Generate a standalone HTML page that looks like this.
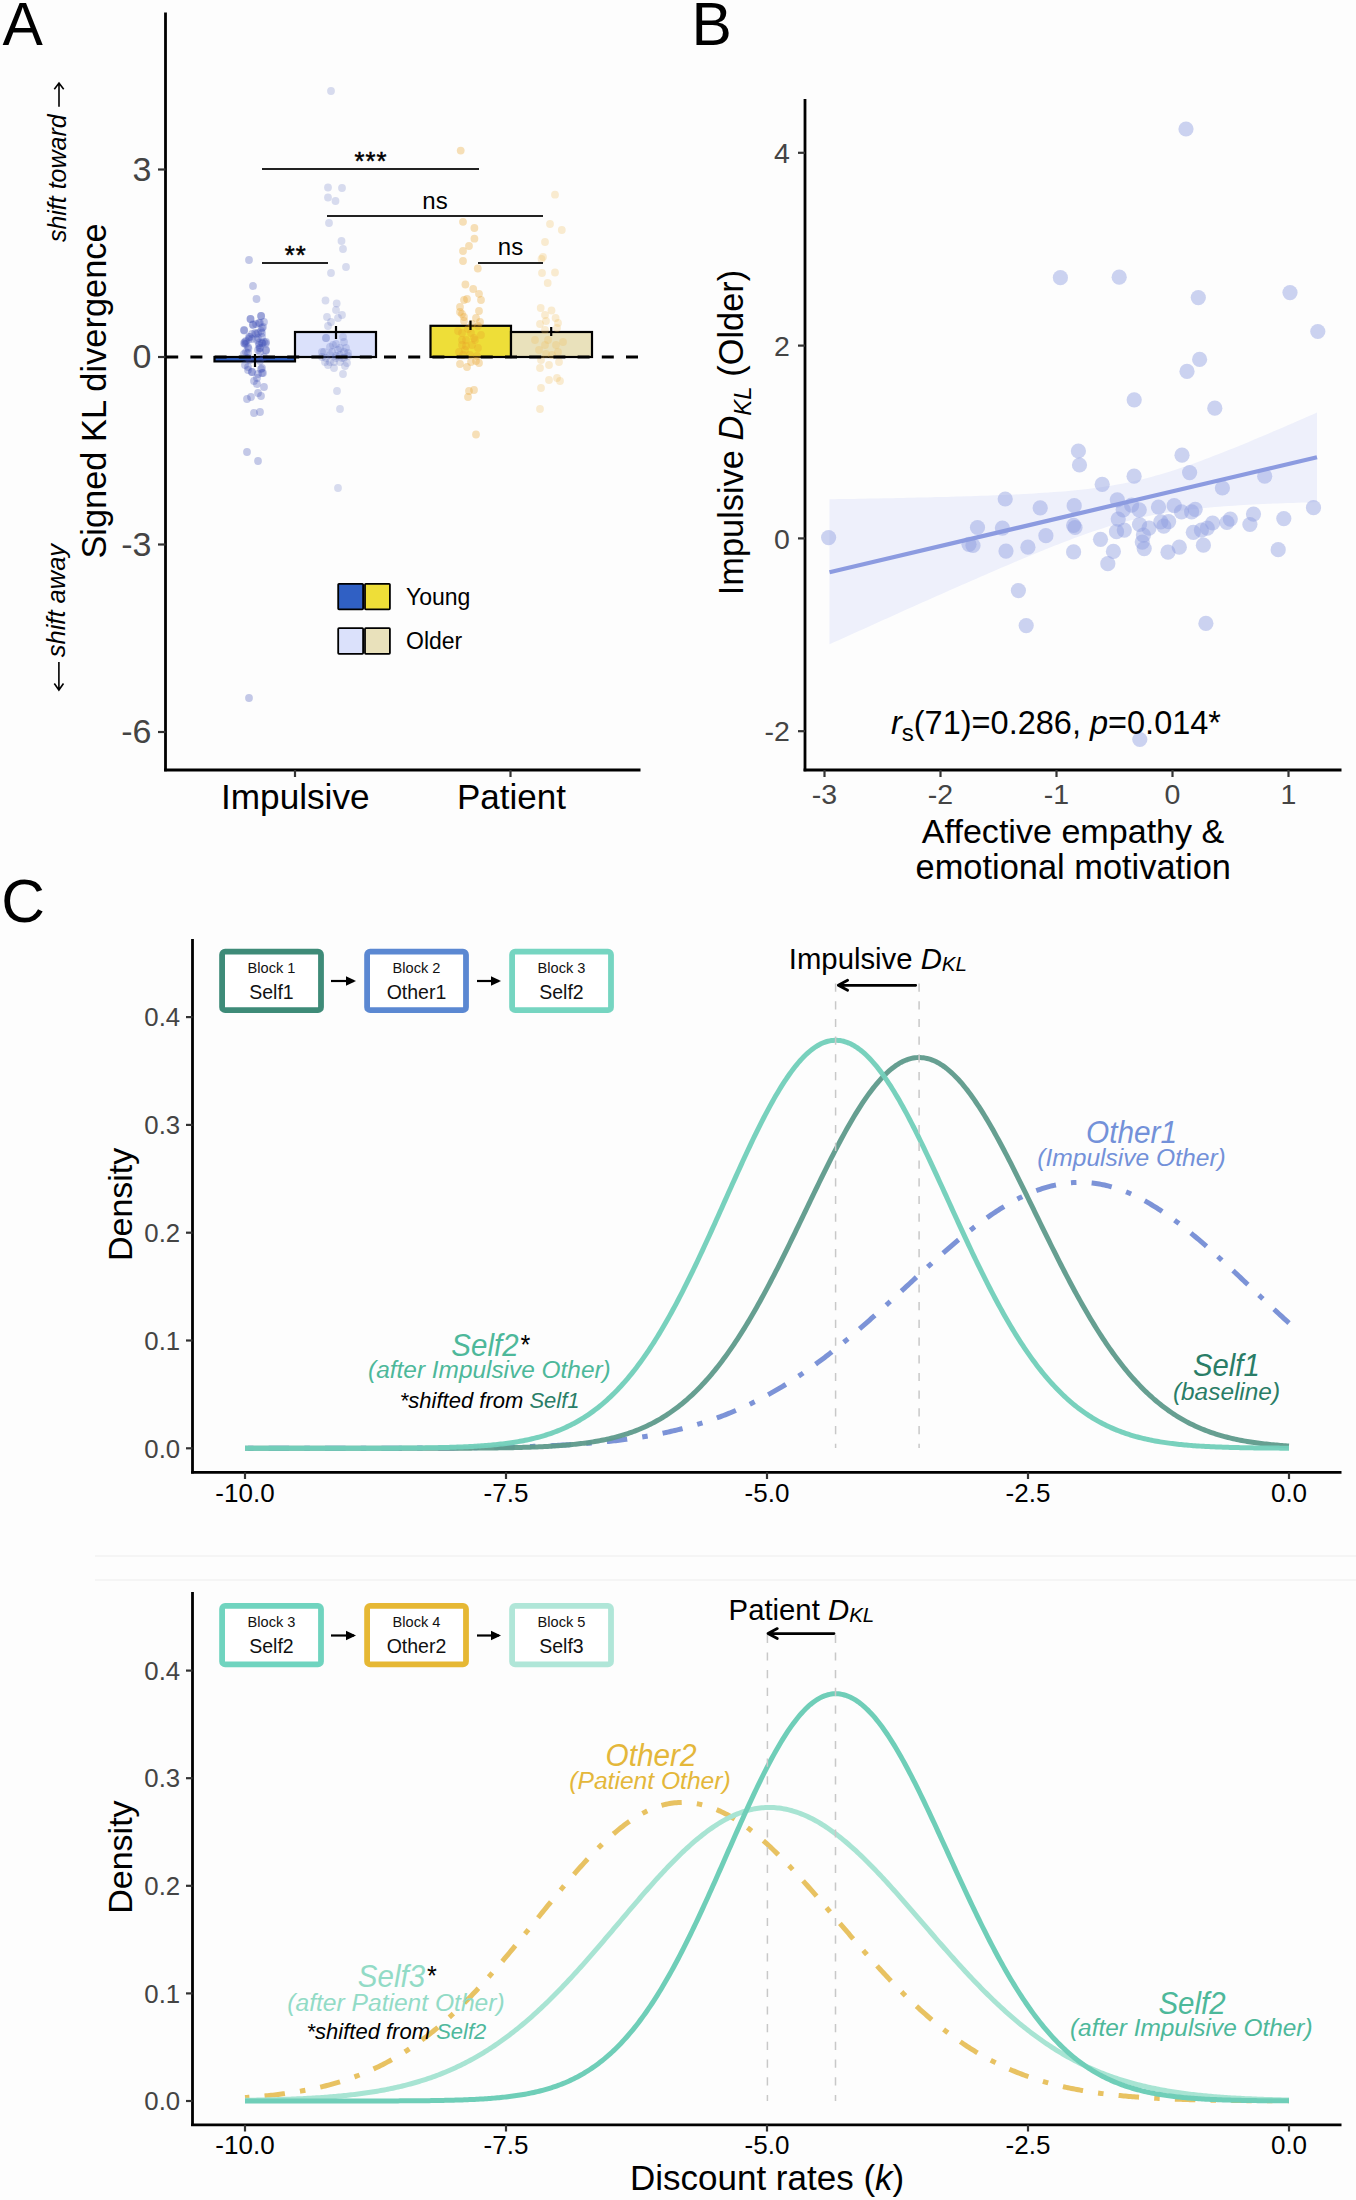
<!DOCTYPE html>
<html><head><meta charset="utf-8"><title>Figure</title>
<style>html,body{margin:0;padding:0;background:#fdfdfd;} svg{display:block;} text{font-family:"Liberation Sans", sans-serif;}</style>
</head><body>
<svg width="1356" height="2200" viewBox="0 0 1356 2200" font-family='"Liberation Sans", sans-serif'>
<rect width="1356" height="2200" fill="#fdfdfd"/>
<text x="2.5" y="45" font-size="60.5" fill="#000" text-anchor="start" >A</text>
<line x1="165.5" y1="12.5" x2="165.5" y2="771.3" stroke="#000" stroke-width="2.8" />
<line x1="164.1" y1="770" x2="640.5" y2="770" stroke="#000" stroke-width="2.8" />
<line x1="158" y1="169.5" x2="165.5" y2="169.5" stroke="#333" stroke-width="2.2" />
<text x="151.5" y="180.9" font-size="34" fill="#444" text-anchor="end" >3</text>
<line x1="158" y1="357" x2="165.5" y2="357" stroke="#333" stroke-width="2.2" />
<text x="151.5" y="368.4" font-size="34" fill="#444" text-anchor="end" >0</text>
<line x1="158" y1="544.5" x2="165.5" y2="544.5" stroke="#333" stroke-width="2.2" />
<text x="151.5" y="555.9" font-size="34" fill="#444" text-anchor="end" >-3</text>
<line x1="158" y1="732" x2="165.5" y2="732" stroke="#333" stroke-width="2.2" />
<text x="151.5" y="743.4" font-size="34" fill="#444" text-anchor="end" >-6</text>
<line x1="295" y1="770" x2="295" y2="777" stroke="#333" stroke-width="2.2" />
<line x1="510.5" y1="770" x2="510.5" y2="777" stroke="#333" stroke-width="2.2" />
<text x="295.3" y="809" font-size="35.2" fill="#000" text-anchor="middle" >Impulsive</text>
<text x="511.5" y="809" font-size="35" fill="#000" text-anchor="middle" >Patient</text>
<text transform="translate(106.1,391) rotate(-90)" font-size="34.4" text-anchor="middle" fill="#000">Signed KL divergence</text>
<text transform="translate(65.9,178.2) rotate(-90)" font-size="25" text-anchor="middle" font-style="italic" fill="#000">shift toward</text>
<path d="M59,106.7 L59,83.5 M54.3,89.3 L59,83 L63.7,89.3" fill="none" stroke="#000" stroke-width="1.6"/>
<text transform="translate(65.1,600.6) rotate(-90)" font-size="25.5" text-anchor="middle" font-style="italic" fill="#000">shift away</text>
<path d="M58.9,662 L58.9,689.6 M54.3,683.5 L58.9,690 L63.5,683.5" fill="none" stroke="#000" stroke-width="1.6"/>
<rect x="214.5" y="357" width="80.5" height="4.4" fill="#3060c4" stroke="#000" stroke-width="2.2"/>
<rect x="295" y="332" width="81" height="25" fill="#dbe1fb" stroke="#000" stroke-width="2.2"/>
<rect x="430.5" y="325.8" width="80.5" height="31.2" fill="#eede38" stroke="#000" stroke-width="2.2"/>
<rect x="511" y="332" width="81" height="25" fill="#e9e1bb" stroke="#000" stroke-width="2.2"/>
<g fill="#3f51b5" fill-opacity="0.3">
<circle cx="249" cy="260" r="3.9"/>
<circle cx="253" cy="286" r="3.9"/>
<circle cx="256.5" cy="299" r="3.9"/>
<circle cx="261" cy="316" r="3.9"/>
<circle cx="250.5" cy="319" r="3.9"/>
<circle cx="253" cy="325" r="3.9"/>
<circle cx="259" cy="323" r="3.9"/>
<circle cx="262" cy="328" r="3.9"/>
<circle cx="244" cy="330" r="3.9"/>
<circle cx="262" cy="333" r="3.9"/>
<circle cx="250" cy="337" r="3.9"/>
<circle cx="245" cy="342" r="3.9"/>
<circle cx="258" cy="338" r="3.9"/>
<circle cx="246" cy="344" r="3.9"/>
<circle cx="248" cy="347" r="3.9"/>
<circle cx="259" cy="343" r="3.9"/>
<circle cx="264" cy="342" r="3.9"/>
<circle cx="260" cy="348" r="3.9"/>
<circle cx="252" cy="339" r="3.9"/>
<circle cx="255" cy="333" r="3.9"/>
<circle cx="244" cy="354" r="3.9"/>
<circle cx="248" cy="353" r="3.9"/>
<circle cx="258" cy="350" r="3.9"/>
<circle cx="266" cy="350" r="3.9"/>
<circle cx="264" cy="357" r="3.9"/>
<circle cx="248" cy="358" r="3.9"/>
<circle cx="250" cy="360" r="3.9"/>
<circle cx="260" cy="361" r="3.9"/>
<circle cx="245" cy="365" r="3.9"/>
<circle cx="248" cy="370" r="3.9"/>
<circle cx="252" cy="372" r="3.9"/>
<circle cx="262" cy="368" r="3.9"/>
<circle cx="262" cy="373" r="3.9"/>
<circle cx="258" cy="374" r="3.9"/>
<circle cx="254" cy="381" r="3.9"/>
<circle cx="257" cy="384" r="3.9"/>
<circle cx="264" cy="387" r="3.9"/>
<circle cx="258" cy="393" r="3.9"/>
<circle cx="261" cy="396" r="3.9"/>
<circle cx="247" cy="399" r="3.9"/>
<circle cx="251" cy="397" r="3.9"/>
<circle cx="254" cy="413" r="3.9"/>
<circle cx="260" cy="412" r="3.9"/>
<circle cx="247" cy="452" r="3.9"/>
<circle cx="258" cy="461" r="3.9"/>
<circle cx="249" cy="698" r="3.9"/>
<circle cx="250.5" cy="319" r="3.9"/>
<circle cx="261.2" cy="316" r="3.9"/>
<circle cx="244.2" cy="330.5" r="3.9"/>
<circle cx="253" cy="324.5" r="3.9"/>
<circle cx="256" cy="324" r="3.9"/>
<circle cx="260" cy="323" r="3.9"/>
<circle cx="264" cy="322" r="3.9"/>
<circle cx="263" cy="327" r="3.9"/>
<circle cx="261" cy="331" r="3.9"/>
<circle cx="258" cy="333" r="3.9"/>
<circle cx="262" cy="337" r="3.9"/>
<circle cx="256" cy="334" r="3.9"/>
<circle cx="252" cy="334" r="3.9"/>
<circle cx="249" cy="337" r="3.9"/>
<circle cx="246" cy="341" r="3.9"/>
<circle cx="244" cy="343" r="3.9"/>
<circle cx="249" cy="339" r="3.9"/>
<circle cx="257" cy="340" r="3.9"/>
<circle cx="262" cy="343" r="3.9"/>
<circle cx="266" cy="342" r="3.9"/>
<circle cx="259" cy="345" r="3.9"/>
<circle cx="244.7" cy="343.8" r="3.9"/>
<circle cx="248.5" cy="348.6" r="3.9"/>
<circle cx="246" cy="352" r="3.9"/>
<circle cx="259.5" cy="348" r="3.9"/>
<circle cx="262.5" cy="343.5" r="3.9"/>
<circle cx="265.8" cy="343.5" r="3.9"/>
<circle cx="266" cy="350.5" r="3.9"/>
<circle cx="260" cy="352" r="3.9"/>
<circle cx="248" cy="367" r="3.9"/>
<circle cx="252" cy="372" r="3.9"/>
<circle cx="261" cy="369" r="3.9"/>
<circle cx="263" cy="373" r="3.9"/>
<circle cx="257" cy="378" r="3.9"/>
</g>
<g fill="#5c6bc0" fill-opacity="0.23">
<circle cx="331" cy="91" r="3.9"/>
<circle cx="328" cy="187.5" r="3.9"/>
<circle cx="342" cy="188" r="3.9"/>
<circle cx="328" cy="197.5" r="3.9"/>
<circle cx="335.5" cy="201" r="3.9"/>
<circle cx="329" cy="223" r="3.9"/>
<circle cx="341.5" cy="241" r="3.9"/>
<circle cx="343" cy="249" r="3.9"/>
<circle cx="346" cy="267" r="3.9"/>
<circle cx="331" cy="273" r="3.9"/>
<circle cx="325.5" cy="300.5" r="3.9"/>
<circle cx="336.7" cy="303.5" r="3.9"/>
<circle cx="336" cy="310" r="3.9"/>
<circle cx="342" cy="315" r="3.9"/>
<circle cx="327" cy="317" r="3.9"/>
<circle cx="338" cy="318" r="3.9"/>
<circle cx="331" cy="322" r="3.9"/>
<circle cx="328" cy="326" r="3.9"/>
<circle cx="326" cy="338" r="3.9"/>
<circle cx="343" cy="337" r="3.9"/>
<circle cx="344" cy="342" r="3.9"/>
<circle cx="330" cy="347" r="3.9"/>
<circle cx="336" cy="344" r="3.9"/>
<circle cx="340" cy="348" r="3.9"/>
<circle cx="346" cy="348" r="3.9"/>
<circle cx="324" cy="352" r="3.9"/>
<circle cx="332" cy="352" r="3.9"/>
<circle cx="340" cy="355" r="3.9"/>
<circle cx="348" cy="353" r="3.9"/>
<circle cx="326" cy="358" r="3.9"/>
<circle cx="336" cy="358" r="3.9"/>
<circle cx="344" cy="358" r="3.9"/>
<circle cx="328" cy="365" r="3.9"/>
<circle cx="340" cy="362" r="3.9"/>
<circle cx="347" cy="363" r="3.9"/>
<circle cx="343" cy="374" r="3.9"/>
<circle cx="337" cy="391" r="3.9"/>
<circle cx="340" cy="409" r="3.9"/>
<circle cx="338" cy="488" r="3.9"/>
<circle cx="330" cy="362" r="3.9"/>
<circle cx="322" cy="357" r="3.9"/>
<circle cx="334" cy="368" r="3.9"/>
<circle cx="345" cy="366" r="3.9"/>
<circle cx="326" cy="338" r="3.9"/>
<circle cx="333" cy="345" r="3.9"/>
<circle cx="338" cy="350" r="3.9"/>
<circle cx="344" cy="352" r="3.9"/>
<circle cx="330" cy="355" r="3.9"/>
<circle cx="336" cy="356" r="3.9"/>
<circle cx="342" cy="358" r="3.9"/>
<circle cx="322" cy="352" r="3.9"/>
<circle cx="348" cy="356" r="3.9"/>
<circle cx="325" cy="362" r="3.9"/>
<circle cx="334" cy="362" r="3.9"/>
</g>
<g fill="#eba52a" fill-opacity="0.33">
<circle cx="460.7" cy="150.6" r="3.9"/>
<circle cx="463" cy="221.8" r="3.9"/>
<circle cx="474.4" cy="228" r="3.9"/>
<circle cx="474.4" cy="238.7" r="3.9"/>
<circle cx="469" cy="246" r="3.9"/>
<circle cx="463" cy="251" r="3.9"/>
<circle cx="463" cy="261" r="3.9"/>
<circle cx="477.8" cy="268.5" r="3.9"/>
<circle cx="465.4" cy="284.5" r="3.9"/>
<circle cx="473.2" cy="289" r="3.9"/>
<circle cx="479" cy="293.8" r="3.9"/>
<circle cx="481" cy="300" r="3.9"/>
<circle cx="464" cy="300" r="3.9"/>
<circle cx="467" cy="299" r="3.9"/>
<circle cx="460" cy="307" r="3.9"/>
<circle cx="462" cy="314" r="3.9"/>
<circle cx="479" cy="311" r="3.9"/>
<circle cx="460" cy="312" r="3.9"/>
<circle cx="464" cy="317" r="3.9"/>
<circle cx="476" cy="318" r="3.9"/>
<circle cx="464" cy="321" r="3.9"/>
<circle cx="480" cy="322" r="3.9"/>
<circle cx="478" cy="326" r="3.9"/>
<circle cx="472" cy="324" r="3.9"/>
<circle cx="462" cy="333" r="3.9"/>
<circle cx="471" cy="333" r="3.9"/>
<circle cx="481" cy="335" r="3.9"/>
<circle cx="466" cy="340" r="3.9"/>
<circle cx="475" cy="340" r="3.9"/>
<circle cx="462" cy="345" r="3.9"/>
<circle cx="472" cy="345" r="3.9"/>
<circle cx="465" cy="350" r="3.9"/>
<circle cx="478" cy="348" r="3.9"/>
<circle cx="463" cy="355" r="3.9"/>
<circle cx="470" cy="355" r="3.9"/>
<circle cx="477" cy="356" r="3.9"/>
<circle cx="476" cy="361" r="3.9"/>
<circle cx="460" cy="364" r="3.9"/>
<circle cx="467" cy="367" r="3.9"/>
<circle cx="471" cy="362" r="3.9"/>
<circle cx="479" cy="363" r="3.9"/>
<circle cx="469" cy="391" r="3.9"/>
<circle cx="474" cy="390" r="3.9"/>
<circle cx="468" cy="397" r="3.9"/>
<circle cx="476" cy="434.5" r="3.9"/>
<circle cx="458" cy="331" r="3.9"/>
<circle cx="468" cy="329" r="3.9"/>
<circle cx="462" cy="340" r="3.9"/>
<circle cx="474" cy="338" r="3.9"/>
<circle cx="459" cy="352" r="3.9"/>
<circle cx="466" cy="346" r="3.9"/>
</g>
<g fill="#f0bc5a" fill-opacity="0.27">
<circle cx="555" cy="194.7" r="3.9"/>
<circle cx="550" cy="224" r="3.9"/>
<circle cx="561.8" cy="230" r="3.9"/>
<circle cx="545" cy="242" r="3.9"/>
<circle cx="543" cy="257" r="3.9"/>
<circle cx="541.5" cy="259" r="3.9"/>
<circle cx="542" cy="273" r="3.9"/>
<circle cx="555" cy="272.5" r="3.9"/>
<circle cx="547.7" cy="283" r="3.9"/>
<circle cx="540.7" cy="308" r="3.9"/>
<circle cx="551.5" cy="310.5" r="3.9"/>
<circle cx="545" cy="315" r="3.9"/>
<circle cx="555.6" cy="318" r="3.9"/>
<circle cx="540" cy="324" r="3.9"/>
<circle cx="546" cy="321" r="3.9"/>
<circle cx="558" cy="323" r="3.9"/>
<circle cx="557" cy="328" r="3.9"/>
<circle cx="545" cy="330" r="3.9"/>
<circle cx="548" cy="340" r="3.9"/>
<circle cx="563" cy="342" r="3.9"/>
<circle cx="535" cy="340" r="3.9"/>
<circle cx="545" cy="345" r="3.9"/>
<circle cx="556" cy="345" r="3.9"/>
<circle cx="539" cy="350" r="3.9"/>
<circle cx="546" cy="354" r="3.9"/>
<circle cx="552" cy="355" r="3.9"/>
<circle cx="558" cy="352" r="3.9"/>
<circle cx="541" cy="360" r="3.9"/>
<circle cx="549" cy="365" r="3.9"/>
<circle cx="559" cy="362" r="3.9"/>
<circle cx="540" cy="368" r="3.9"/>
<circle cx="549" cy="380" r="3.9"/>
<circle cx="557" cy="378" r="3.9"/>
<circle cx="541" cy="388" r="3.9"/>
<circle cx="560" cy="381" r="3.9"/>
<circle cx="540" cy="409" r="3.9"/>
</g>
<line x1="166.2" y1="357.0" x2="640" y2="357.0" stroke="#000" stroke-width="3.2" stroke-dasharray="12 12.2"/>
<line x1="255" y1="354" x2="255" y2="367" stroke="#000" stroke-width="2.2" />
<line x1="336" y1="326" x2="336" y2="339" stroke="#000" stroke-width="2.2" />
<line x1="470.5" y1="320.6" x2="470.5" y2="330" stroke="#000" stroke-width="2.2" />
<line x1="551.2" y1="327" x2="551.2" y2="336" stroke="#000" stroke-width="2.2" />
<line x1="262" y1="169" x2="479" y2="169" stroke="#222" stroke-width="1.8" />
<text x="359.5" y="169.8" font-size="25.5" fill="#000" text-anchor="middle" stroke="#000" stroke-width="0.5">*</text>
<text x="370.5" y="169.8" font-size="25.5" fill="#000" text-anchor="middle" stroke="#000" stroke-width="0.5">*</text>
<text x="381.5" y="169.8" font-size="25.5" fill="#000" text-anchor="middle" stroke="#000" stroke-width="0.5">*</text>
<line x1="327" y1="216" x2="543" y2="216" stroke="#222" stroke-width="1.8" />
<text x="435" y="209" font-size="24" fill="#000" text-anchor="middle" >ns</text>
<line x1="262" y1="263" x2="328" y2="263" stroke="#222" stroke-width="1.8" />
<text x="289.6" y="264.3" font-size="25.5" fill="#000" text-anchor="middle" stroke="#000" stroke-width="0.5">*</text>
<text x="300.6" y="264.3" font-size="25.5" fill="#000" text-anchor="middle" stroke="#000" stroke-width="0.5">*</text>
<line x1="478" y1="263" x2="543" y2="263" stroke="#222" stroke-width="1.8" />
<text x="510.5" y="255" font-size="24" fill="#000" text-anchor="middle" >ns</text>
<rect x="338.2" y="583.8" width="24.9" height="25.6" rx="0.8" fill="#3060c4" stroke="#000" stroke-width="1.8"/>
<rect x="365" y="583.8" width="24.9" height="25.6" rx="0.8" fill="#eede38" stroke="#000" stroke-width="1.8"/>
<rect x="338.2" y="628.2" width="24.9" height="25.6" rx="0.8" fill="#dbe1fb" stroke="#000" stroke-width="1.8"/>
<rect x="365" y="628.2" width="24.9" height="25.6" rx="0.8" fill="#e9e1bb" stroke="#000" stroke-width="1.8"/>
<text x="406" y="605" font-size="23" fill="#000" text-anchor="start" >Young</text>
<text x="406" y="649" font-size="23" fill="#000" text-anchor="start" >Older</text>
<text x="691.5" y="44.8" font-size="60.5" fill="#000" text-anchor="start" >B</text>
<path d="M829.5,499.3 L834.4,499.2 L839.2,499.1 L844.1,499.1 L849,499 L853.9,498.9 L858.8,498.8 L863.6,498.7 L868.5,498.6 L873.4,498.5 L878.2,498.4 L883.1,498.3 L888,498.3 L892.9,498.2 L897.8,498.1 L902.6,497.9 L907.5,497.8 L912.4,497.7 L917.2,497.6 L922.1,497.5 L927,497.4 L931.9,497.3 L936.8,497.1 L941.6,497 L946.5,496.9 L951.4,496.8 L956.2,496.6 L961.1,496.5 L966,496.3 L970.9,496.2 L975.8,496 L980.6,495.8 L985.5,495.7 L990.4,495.5 L995.2,495.3 L1000.1,495.1 L1005,494.9 L1009.9,494.7 L1014.8,494.5 L1019.6,494.2 L1024.5,494 L1029.4,493.7 L1034.2,493.4 L1039.1,493.1 L1044,492.8 L1048.9,492.5 L1053.8,492.1 L1058.6,491.8 L1063.5,491.4 L1068.4,490.9 L1073.2,490.5 L1078.1,490 L1083,489.5 L1087.9,488.9 L1092.8,488.3 L1097.6,487.7 L1102.5,487 L1107.4,486.3 L1112.2,485.5 L1117.1,484.6 L1122,483.7 L1126.9,482.8 L1131.8,481.7 L1136.6,480.6 L1141.5,479.5 L1146.4,478.3 L1151.2,477 L1156.1,475.6 L1161,474.2 L1165.9,472.8 L1170.8,471.2 L1175.6,469.7 L1180.5,468.1 L1185.4,466.4 L1190.2,464.7 L1195.1,462.9 L1200,461.2 L1204.9,459.3 L1209.8,457.5 L1214.6,455.6 L1219.5,453.7 L1224.4,451.8 L1229.2,449.8 L1234.1,447.9 L1239,445.9 L1243.9,443.9 L1248.8,441.9 L1253.6,439.8 L1258.5,437.8 L1263.4,435.7 L1268.2,433.7 L1273.1,431.6 L1278,429.5 L1282.9,427.4 L1287.8,425.3 L1292.6,423.2 L1297.5,421.1 L1302.4,418.9 L1307.2,416.8 L1312.1,414.7 L1317,412.5 L1317,502.1 L1312.1,502.2 L1307.2,502.4 L1302.4,502.5 L1297.5,502.7 L1292.6,502.9 L1287.8,503 L1282.9,503.2 L1278,503.4 L1273.1,503.6 L1268.2,503.8 L1263.4,504.1 L1258.5,504.3 L1253.6,504.5 L1248.8,504.8 L1243.9,505.1 L1239,505.3 L1234.1,505.7 L1229.2,506 L1224.4,506.3 L1219.5,506.7 L1214.6,507.1 L1209.8,507.5 L1204.9,507.9 L1200,508.4 L1195.1,508.9 L1190.2,509.5 L1185.4,510 L1180.5,510.7 L1175.6,511.3 L1170.8,512.1 L1165.9,512.8 L1161,513.7 L1156.1,514.5 L1151.2,515.5 L1146.4,516.5 L1141.5,517.6 L1136.6,518.7 L1131.8,519.9 L1126.9,521.2 L1122,522.5 L1117.1,523.9 L1112.2,525.3 L1107.4,526.8 L1102.5,528.4 L1097.6,530 L1092.8,531.6 L1087.9,533.3 L1083,535 L1078.1,536.8 L1073.2,538.6 L1068.4,540.4 L1063.5,542.3 L1058.6,544.2 L1053.8,546.1 L1048.9,548.1 L1044,550 L1039.1,552 L1034.2,554 L1029.4,556 L1024.5,558 L1019.6,560.1 L1014.8,562.1 L1009.9,564.2 L1005,566.3 L1000.1,568.3 L995.2,570.4 L990.4,572.5 L985.5,574.7 L980.6,576.8 L975.8,578.9 L970.9,581 L966,583.2 L961.1,585.3 L956.2,587.4 L951.4,589.6 L946.5,591.7 L941.6,593.9 L936.8,596.1 L931.9,598.2 L927,600.4 L922.1,602.6 L917.2,604.8 L912.4,606.9 L907.5,609.1 L902.6,611.3 L897.8,613.5 L892.9,615.7 L888,617.9 L883.1,620.1 L878.2,622.3 L873.4,624.5 L868.5,626.7 L863.6,628.9 L858.8,631.1 L853.9,633.3 L849,635.5 L844.1,637.7 L839.2,639.9 L834.4,642.1 L829.5,644.3 Z" fill="#eef0fb"/>
<g fill="#8e9ee0" fill-opacity="0.45">
<circle cx="1078.4" cy="451" r="7.6"/>
<circle cx="1079.5" cy="465" r="7.6"/>
<circle cx="1182" cy="455.2" r="7.6"/>
<circle cx="1189.6" cy="472.6" r="7.6"/>
<circle cx="1102.2" cy="484.4" r="7.6"/>
<circle cx="1134.1" cy="476.2" r="7.6"/>
<circle cx="1264.7" cy="476.2" r="7.6"/>
<circle cx="1222.4" cy="488" r="7.6"/>
<circle cx="1005.2" cy="499" r="7.6"/>
<circle cx="1040.2" cy="507.9" r="7.6"/>
<circle cx="1074.2" cy="505.7" r="7.6"/>
<circle cx="1117.3" cy="499.8" r="7.6"/>
<circle cx="1131.6" cy="505.1" r="7.6"/>
<circle cx="1139.2" cy="509.9" r="7.6"/>
<circle cx="1123.2" cy="509.9" r="7.6"/>
<circle cx="1158.5" cy="507.1" r="7.6"/>
<circle cx="1174.2" cy="505.7" r="7.6"/>
<circle cx="1181.5" cy="511.8" r="7.6"/>
<circle cx="1191.6" cy="511.8" r="7.6"/>
<circle cx="1195.2" cy="509.3" r="7.6"/>
<circle cx="1118.2" cy="519.1" r="7.6"/>
<circle cx="1139.5" cy="524.5" r="7.6"/>
<circle cx="1149" cy="528.1" r="7.6"/>
<circle cx="1160.8" cy="521.9" r="7.6"/>
<circle cx="1168.6" cy="521.6" r="7.6"/>
<circle cx="1163.8" cy="526.1" r="7.6"/>
<circle cx="1212.6" cy="523" r="7.6"/>
<circle cx="1230.3" cy="519.1" r="7.6"/>
<circle cx="1226.9" cy="522.5" r="7.6"/>
<circle cx="1253.5" cy="514.1" r="7.6"/>
<circle cx="1249.9" cy="524.5" r="7.6"/>
<circle cx="1283.8" cy="518.6" r="7.6"/>
<circle cx="1313.5" cy="507.6" r="7.6"/>
<circle cx="977.5" cy="527.5" r="7.6"/>
<circle cx="1002.4" cy="528.1" r="7.6"/>
<circle cx="1073.6" cy="525.3" r="7.6"/>
<circle cx="1075" cy="527.5" r="7.6"/>
<circle cx="969" cy="544.3" r="7.6"/>
<circle cx="973" cy="545.5" r="7.6"/>
<circle cx="1006" cy="551.1" r="7.6"/>
<circle cx="1027.9" cy="547.2" r="7.6"/>
<circle cx="1045.9" cy="535.7" r="7.6"/>
<circle cx="1073.6" cy="551.9" r="7.6"/>
<circle cx="1100.5" cy="539.3" r="7.6"/>
<circle cx="1116.5" cy="531.7" r="7.6"/>
<circle cx="1124.3" cy="530.1" r="7.6"/>
<circle cx="1113.4" cy="551.4" r="7.6"/>
<circle cx="1107.8" cy="563.7" r="7.6"/>
<circle cx="1143.4" cy="535.1" r="7.6"/>
<circle cx="1142.3" cy="542.1" r="7.6"/>
<circle cx="1144.2" cy="548.6" r="7.6"/>
<circle cx="1168" cy="552.2" r="7.6"/>
<circle cx="1179.3" cy="547.2" r="7.6"/>
<circle cx="1193.3" cy="532.3" r="7.6"/>
<circle cx="1201.4" cy="530.1" r="7.6"/>
<circle cx="1207.3" cy="528.1" r="7.6"/>
<circle cx="1203.4" cy="545.2" r="7.6"/>
<circle cx="1278.2" cy="549.7" r="7.6"/>
<circle cx="1018.4" cy="590.6" r="7.6"/>
<circle cx="1026.2" cy="625.6" r="7.6"/>
<circle cx="1205.9" cy="623.4" r="7.6"/>
<circle cx="828.6" cy="537.6" r="7.6"/>
<circle cx="1186" cy="129" r="7.6"/>
<circle cx="1060.4" cy="277.7" r="7.6"/>
<circle cx="1119.2" cy="277.2" r="7.6"/>
<circle cx="1198.3" cy="297.6" r="7.6"/>
<circle cx="1290" cy="292.6" r="7.6"/>
<circle cx="1317.8" cy="331.5" r="7.6"/>
<circle cx="1199.6" cy="359.4" r="7.6"/>
<circle cx="1187" cy="371.4" r="7.6"/>
<circle cx="1134.2" cy="399.8" r="7.6"/>
<circle cx="1214.8" cy="408.2" r="7.6"/>
<circle cx="1139.8" cy="739.5" r="7.6"/>
</g>
<line x1="829.5" y1="572.2" x2="1317" y2="457.3" stroke="#8c9be0" stroke-width="4.2" />
<line x1="805" y1="99" x2="805" y2="771.3" stroke="#000" stroke-width="2.8" />
<line x1="803.6" y1="770" x2="1341.5" y2="770" stroke="#000" stroke-width="2.8" />
<line x1="798" y1="152.8" x2="805" y2="152.8" stroke="#333" stroke-width="2.2" />
<text x="789.8" y="163" font-size="28.5" fill="#444" text-anchor="end" >4</text>
<line x1="798" y1="345.6" x2="805" y2="345.6" stroke="#333" stroke-width="2.2" />
<text x="789.8" y="355.8" font-size="28.5" fill="#444" text-anchor="end" >2</text>
<line x1="798" y1="538.4" x2="805" y2="538.4" stroke="#333" stroke-width="2.2" />
<text x="789.8" y="548.6" font-size="28.5" fill="#444" text-anchor="end" >0</text>
<line x1="798" y1="731.2" x2="805" y2="731.2" stroke="#333" stroke-width="2.2" />
<text x="789.8" y="741.4" font-size="28.5" fill="#444" text-anchor="end" >-2</text>
<line x1="824.5" y1="770" x2="824.5" y2="777" stroke="#333" stroke-width="2.2" />
<text x="824.5" y="804" font-size="28.5" fill="#444" text-anchor="middle" >-3</text>
<line x1="940.5" y1="770" x2="940.5" y2="777" stroke="#333" stroke-width="2.2" />
<text x="940.5" y="804" font-size="28.5" fill="#444" text-anchor="middle" >-2</text>
<line x1="1056.5" y1="770" x2="1056.5" y2="777" stroke="#333" stroke-width="2.2" />
<text x="1056.5" y="804" font-size="28.5" fill="#444" text-anchor="middle" >-1</text>
<line x1="1172.5" y1="770" x2="1172.5" y2="777" stroke="#333" stroke-width="2.2" />
<text x="1172.5" y="804" font-size="28.5" fill="#444" text-anchor="middle" >0</text>
<line x1="1288.5" y1="770" x2="1288.5" y2="777" stroke="#333" stroke-width="2.2" />
<text x="1288.5" y="804" font-size="28.5" fill="#444" text-anchor="middle" >1</text>
<text x="1073.1" y="842.7" font-size="34.1" fill="#000" text-anchor="middle" >Affective empathy &amp;</text>
<text x="1073.3" y="878.6" font-size="34.4" fill="#000" text-anchor="middle" >emotional motivation</text>
<text transform="translate(743.3,432.5) rotate(-90)" font-size="34.4" text-anchor="middle" fill="#000">Impulsive <tspan font-style="italic">D</tspan><tspan font-style="italic" font-size="24" dy="8">KL</tspan><tspan dy="-8"> (Older)</tspan></text>
<text x="1056" y="734" font-size="32.5" text-anchor="middle" fill="#000"><tspan font-style="italic">r</tspan><tspan font-size="24" dy="7">s</tspan><tspan dy="-7">(71)=0.286, </tspan><tspan font-style="italic">p</tspan>=0.014*</text>
<text x="1.2" y="922.3" font-size="60.5" fill="#000" text-anchor="start" >C</text>
<line x1="192.5" y1="939" x2="192.5" y2="1473.6" stroke="#000" stroke-width="2.8" />
<line x1="191.1" y1="1472.3" x2="1341.5" y2="1472.3" stroke="#000" stroke-width="2.8" />
<line x1="186" y1="1448.3" x2="192.5" y2="1448.3" stroke="#333" stroke-width="2.2" />
<text x="180.2" y="1457.5" font-size="25.8" fill="#444" text-anchor="end" >0.0</text>
<line x1="186" y1="1340.5" x2="192.5" y2="1340.5" stroke="#333" stroke-width="2.2" />
<text x="180.2" y="1349.7" font-size="25.8" fill="#444" text-anchor="end" >0.1</text>
<line x1="186" y1="1232.7" x2="192.5" y2="1232.7" stroke="#333" stroke-width="2.2" />
<text x="180.2" y="1241.9" font-size="25.8" fill="#444" text-anchor="end" >0.2</text>
<line x1="186" y1="1124.9" x2="192.5" y2="1124.9" stroke="#333" stroke-width="2.2" />
<text x="180.2" y="1134.1" font-size="25.8" fill="#444" text-anchor="end" >0.3</text>
<line x1="186" y1="1017.1" x2="192.5" y2="1017.1" stroke="#333" stroke-width="2.2" />
<text x="180.2" y="1026.3" font-size="25.8" fill="#444" text-anchor="end" >0.4</text>
<line x1="245" y1="1472.3" x2="245" y2="1479" stroke="#333" stroke-width="2.2" />
<text x="245" y="1501.5" font-size="26" fill="#000" text-anchor="middle" >-10.0</text>
<line x1="506" y1="1472.3" x2="506" y2="1479" stroke="#333" stroke-width="2.2" />
<text x="506" y="1501.5" font-size="26" fill="#000" text-anchor="middle" >-7.5</text>
<line x1="767" y1="1472.3" x2="767" y2="1479" stroke="#333" stroke-width="2.2" />
<text x="767" y="1501.5" font-size="26" fill="#000" text-anchor="middle" >-5.0</text>
<line x1="1028" y1="1472.3" x2="1028" y2="1479" stroke="#333" stroke-width="2.2" />
<text x="1028" y="1501.5" font-size="26" fill="#000" text-anchor="middle" >-2.5</text>
<line x1="1289" y1="1472.3" x2="1289" y2="1479" stroke="#333" stroke-width="2.2" />
<text x="1289" y="1501.5" font-size="26" fill="#000" text-anchor="middle" >0.0</text>
<text transform="translate(131.8,1204.4) rotate(-90)" font-size="34" text-anchor="middle" fill="#000">Density</text>
<path d="M245.00,1448.30 L246.74,1448.30 L248.48,1448.30 L250.22,1448.30 L251.96,1448.30 L253.70,1448.30 L255.44,1448.30 L257.18,1448.30 L258.92,1448.30 L260.66,1448.30 L262.40,1448.30 L264.14,1448.30 L265.88,1448.30 L267.62,1448.29 L269.36,1448.29 L271.10,1448.29 L272.84,1448.29 L274.58,1448.29 L276.32,1448.29 L278.06,1448.29 L279.80,1448.29 L281.54,1448.29 L283.28,1448.29 L285.02,1448.29 L286.76,1448.29 L288.50,1448.29 L290.24,1448.29 L291.98,1448.29 L293.72,1448.29 L295.46,1448.29 L297.20,1448.29 L298.94,1448.29 L300.68,1448.29 L302.42,1448.29 L304.16,1448.29 L305.90,1448.29 L307.64,1448.29 L309.38,1448.28 L311.12,1448.28 L312.86,1448.28 L314.60,1448.28 L316.34,1448.28 L318.08,1448.28 L319.82,1448.28 L321.56,1448.28 L323.30,1448.28 L325.04,1448.28 L326.78,1448.28 L328.52,1448.28 L330.26,1448.27 L332.00,1448.27 L333.74,1448.27 L335.48,1448.27 L337.22,1448.27 L338.96,1448.27 L340.70,1448.27 L342.44,1448.27 L344.18,1448.26 L345.92,1448.26 L347.66,1448.26 L349.40,1448.26 L351.14,1448.26 L352.88,1448.26 L354.62,1448.25 L356.36,1448.25 L358.10,1448.25 L359.84,1448.25 L361.58,1448.25 L363.32,1448.24 L365.06,1448.24 L366.80,1448.24 L368.54,1448.24 L370.28,1448.23 L372.02,1448.23 L373.76,1448.23 L375.50,1448.22 L377.24,1448.22 L378.98,1448.22 L380.72,1448.21 L382.46,1448.21 L384.20,1448.21 L385.94,1448.20 L387.68,1448.20 L389.42,1448.20 L391.16,1448.19 L392.90,1448.19 L394.64,1448.18 L396.38,1448.18 L398.12,1448.17 L399.86,1448.17 L401.60,1448.16 L403.34,1448.16 L405.08,1448.15 L406.82,1448.15 L408.56,1448.14 L410.30,1448.13 L412.04,1448.13 L413.78,1448.12 L415.52,1448.11 L417.26,1448.11 L419.00,1448.10 L420.74,1448.09 L422.48,1448.08 L424.22,1448.08 L425.96,1448.07 L427.70,1448.06 L429.44,1448.05 L431.18,1448.04 L432.92,1448.03 L434.66,1448.02 L436.40,1448.01 L438.14,1448.00 L439.88,1447.99 L441.62,1447.98 L443.36,1447.96 L445.10,1447.95 L446.84,1447.94 L448.58,1447.92 L450.32,1447.91 L452.06,1447.90 L453.80,1447.88 L455.54,1447.87 L457.28,1447.85 L459.02,1447.83 L460.76,1447.82 L462.50,1447.80 L464.24,1447.78 L465.98,1447.76 L467.72,1447.74 L469.46,1447.72 L471.20,1447.70 L472.94,1447.68 L474.68,1447.66 L476.42,1447.64 L478.16,1447.62 L479.90,1447.59 L481.64,1447.57 L483.38,1447.54 L485.12,1447.51 L486.86,1447.49 L488.60,1447.46 L490.34,1447.43 L492.08,1447.40 L493.82,1447.37 L495.56,1447.34 L497.30,1447.31 L499.04,1447.27 L500.78,1447.24 L502.52,1447.20 L504.26,1447.16 L506.00,1447.13 L507.74,1447.09 L509.48,1447.05 L511.22,1447.01 L512.96,1446.96 L514.70,1446.92 L516.44,1446.87 L518.18,1446.83 L519.92,1446.78 L521.66,1446.73 L523.40,1446.68 L525.14,1446.63 L526.88,1446.57 L528.62,1446.52 L530.36,1446.46 L532.10,1446.40 L533.84,1446.34 L535.58,1446.28 L537.32,1446.21 L539.06,1446.15 L540.80,1446.08 L542.54,1446.01 L544.28,1445.94 L546.02,1445.87 L547.76,1445.79 L549.50,1445.71 L551.24,1445.63 L552.98,1445.55 L554.72,1445.47 L556.46,1445.38 L558.20,1445.29 L559.94,1445.20 L561.68,1445.11 L563.42,1445.01 L565.16,1444.91 L566.90,1444.81 L568.64,1444.71 L570.38,1444.60 L572.12,1444.49 L573.86,1444.38 L575.60,1444.26 L577.34,1444.15 L579.08,1444.03 L580.82,1443.90 L582.56,1443.77 L584.30,1443.64 L586.04,1443.51 L587.78,1443.37 L589.52,1443.23 L591.26,1443.09 L593.00,1442.94 L594.74,1442.79 L596.48,1442.63 L598.22,1442.48 L599.96,1442.31 L601.70,1442.15 L603.44,1441.98 L605.18,1441.80 L606.92,1441.62 L608.66,1441.44 L610.40,1441.25 L612.14,1441.06 L613.88,1440.86 L615.62,1440.66 L617.36,1440.46 L619.10,1440.25 L620.84,1440.03 L622.58,1439.81 L624.32,1439.59 L626.06,1439.36 L627.80,1439.12 L629.54,1438.88 L631.28,1438.64 L633.02,1438.39 L634.76,1438.13 L636.50,1437.87 L638.24,1437.60 L639.98,1437.33 L641.72,1437.05 L643.46,1436.76 L645.20,1436.47 L646.94,1436.17 L648.68,1435.87 L650.42,1435.56 L652.16,1435.24 L653.90,1434.92 L655.64,1434.59 L657.38,1434.25 L659.12,1433.91 L660.86,1433.56 L662.60,1433.20 L664.34,1432.83 L666.08,1432.46 L667.82,1432.08 L669.56,1431.70 L671.30,1431.30 L673.04,1430.90 L674.78,1430.49 L676.52,1430.07 L678.26,1429.65 L680.00,1429.22 L681.74,1428.78 L683.48,1428.33 L685.22,1427.87 L686.96,1427.40 L688.70,1426.93 L690.44,1426.44 L692.18,1425.95 L693.92,1425.45 L695.66,1424.94 L697.40,1424.42 L699.14,1423.89 L700.88,1423.36 L702.62,1422.81 L704.36,1422.26 L706.10,1421.69 L707.84,1421.12 L709.58,1420.53 L711.32,1419.94 L713.06,1419.33 L714.80,1418.72 L716.54,1418.10 L718.28,1417.46 L720.02,1416.82 L721.76,1416.17 L723.50,1415.50 L725.24,1414.83 L726.98,1414.14 L728.72,1413.44 L730.46,1412.74 L732.20,1412.02 L733.94,1411.29 L735.68,1410.55 L737.42,1409.80 L739.16,1409.04 L740.90,1408.27 L742.64,1407.49 L744.38,1406.69 L746.12,1405.89 L747.86,1405.07 L749.60,1404.24 L751.34,1403.40 L753.08,1402.55 L754.82,1401.69 L756.56,1400.82 L758.30,1399.93 L760.04,1399.03 L761.78,1398.13 L763.52,1397.21 L765.26,1396.27 L767.00,1395.33 L768.74,1394.37 L770.48,1393.41 L772.22,1392.43 L773.96,1391.44 L775.70,1390.43 L777.44,1389.42 L779.18,1388.39 L780.92,1387.35 L782.66,1386.30 L784.40,1385.24 L786.14,1384.17 L787.88,1383.08 L789.62,1381.99 L791.36,1380.88 L793.10,1379.76 L794.84,1378.62 L796.58,1377.48 L798.32,1376.33 L800.06,1375.16 L801.80,1373.98 L803.54,1372.79 L805.28,1371.59 L807.02,1370.38 L808.76,1369.15 L810.50,1367.92 L812.24,1366.67 L813.98,1365.41 L815.72,1364.14 L817.46,1362.86 L819.20,1361.57 L820.94,1360.27 L822.68,1358.96 L824.42,1357.64 L826.16,1356.31 L827.90,1354.96 L829.64,1353.61 L831.38,1352.25 L833.12,1350.87 L834.86,1349.49 L836.60,1348.10 L838.34,1346.70 L840.08,1345.28 L841.82,1343.86 L843.56,1342.43 L845.30,1341.00 L847.04,1339.55 L848.78,1338.09 L850.52,1336.63 L852.26,1335.16 L854.00,1333.68 L855.74,1332.19 L857.48,1330.69 L859.22,1329.19 L860.96,1327.68 L862.70,1326.16 L864.44,1324.64 L866.18,1323.11 L867.92,1321.57 L869.66,1320.03 L871.40,1318.48 L873.14,1316.93 L874.88,1315.37 L876.62,1313.80 L878.36,1312.23 L880.10,1310.66 L881.84,1309.08 L883.58,1307.49 L885.32,1305.91 L887.06,1304.32 L888.80,1302.72 L890.54,1301.13 L892.28,1299.53 L894.02,1297.93 L895.76,1296.32 L897.50,1294.72 L899.24,1293.11 L900.98,1291.50 L902.72,1289.89 L904.46,1288.29 L906.20,1286.68 L907.94,1285.07 L909.68,1283.46 L911.42,1281.85 L913.16,1280.24 L914.90,1278.63 L916.64,1277.03 L918.38,1275.43 L920.12,1273.83 L921.86,1272.23 L923.60,1270.64 L925.34,1269.04 L927.08,1267.46 L928.82,1265.87 L930.56,1264.30 L932.30,1262.72 L934.04,1261.15 L935.78,1259.59 L937.52,1258.03 L939.26,1256.48 L941.00,1254.94 L942.74,1253.40 L944.48,1251.87 L946.22,1250.35 L947.96,1248.84 L949.70,1247.33 L951.44,1245.83 L953.18,1244.35 L954.92,1242.87 L956.66,1241.40 L958.40,1239.94 L960.14,1238.49 L961.88,1237.06 L963.62,1235.63 L965.36,1234.22 L967.10,1232.82 L968.84,1231.43 L970.58,1230.05 L972.32,1228.69 L974.06,1227.34 L975.80,1226.01 L977.54,1224.69 L979.28,1223.38 L981.02,1222.09 L982.76,1220.81 L984.50,1219.55 L986.24,1218.30 L987.98,1217.08 L989.72,1215.86 L991.46,1214.67 L993.20,1213.49 L994.94,1212.33 L996.68,1211.19 L998.42,1210.06 L1000.16,1208.96 L1001.90,1207.87 L1003.64,1206.80 L1005.38,1205.75 L1007.12,1204.72 L1008.86,1203.71 L1010.60,1202.73 L1012.34,1201.76 L1014.08,1200.81 L1015.82,1199.88 L1017.56,1198.98 L1019.30,1198.10 L1021.04,1197.24 L1022.78,1196.40 L1024.52,1195.58 L1026.26,1194.79 L1028.00,1194.01 L1029.74,1193.27 L1031.48,1192.54 L1033.22,1191.84 L1034.96,1191.16 L1036.70,1190.51 L1038.44,1189.88 L1040.18,1189.27 L1041.92,1188.69 L1043.66,1188.13 L1045.40,1187.60 L1047.14,1187.10 L1048.88,1186.61 L1050.62,1186.16 L1052.36,1185.73 L1054.10,1185.32 L1055.84,1184.94 L1057.58,1184.59 L1059.32,1184.26 L1061.06,1183.96 L1062.80,1183.68 L1064.54,1183.43 L1066.28,1183.20 L1068.02,1183.01 L1069.76,1182.83 L1071.50,1182.69 L1073.24,1182.57 L1074.98,1182.48 L1076.72,1182.41 L1078.46,1182.37 L1080.20,1182.36 L1081.94,1182.37 L1083.68,1182.41 L1085.42,1182.48 L1087.16,1182.58 L1088.90,1182.70 L1090.64,1182.86 L1092.38,1183.04 L1094.12,1183.25 L1095.86,1183.48 L1097.60,1183.74 L1099.34,1184.03 L1101.08,1184.35 L1102.82,1184.70 L1104.56,1185.07 L1106.30,1185.47 L1108.04,1185.89 L1109.78,1186.34 L1111.52,1186.82 L1113.26,1187.33 L1115.00,1187.86 L1116.74,1188.42 L1118.48,1189.00 L1120.22,1189.61 L1121.96,1190.25 L1123.70,1190.91 L1125.44,1191.59 L1127.18,1192.30 L1128.92,1193.04 L1130.66,1193.80 L1132.40,1194.58 L1134.14,1195.39 L1135.88,1196.22 L1137.62,1197.07 L1139.36,1197.95 L1141.10,1198.85 L1142.84,1199.78 L1144.58,1200.72 L1146.32,1201.69 L1148.06,1202.68 L1149.80,1203.70 L1151.54,1204.73 L1153.28,1205.78 L1155.02,1206.86 L1156.76,1207.95 L1158.50,1209.07 L1160.24,1210.21 L1161.98,1211.36 L1163.72,1212.53 L1165.46,1213.73 L1167.20,1214.94 L1168.94,1216.17 L1170.68,1217.41 L1172.42,1218.68 L1174.16,1219.96 L1175.90,1221.25 L1177.64,1222.57 L1179.38,1223.90 L1181.12,1225.24 L1182.86,1226.60 L1184.60,1227.98 L1186.34,1229.37 L1188.08,1230.77 L1189.82,1232.19 L1191.56,1233.62 L1193.30,1235.06 L1195.04,1236.52 L1196.78,1237.98 L1198.52,1239.46 L1200.26,1240.95 L1202.00,1242.45 L1203.74,1243.96 L1205.48,1245.49 L1207.22,1247.02 L1208.96,1248.56 L1210.70,1250.11 L1212.44,1251.67 L1214.18,1253.23 L1215.92,1254.81 L1217.66,1256.39 L1219.40,1257.98 L1221.14,1259.57 L1222.88,1261.17 L1224.62,1262.78 L1226.36,1264.39 L1228.10,1266.01 L1229.84,1267.63 L1231.58,1269.26 L1233.32,1270.89 L1235.06,1272.52 L1236.80,1274.16 L1238.54,1275.80 L1240.28,1277.44 L1242.02,1279.09 L1243.76,1280.73 L1245.50,1282.38 L1247.24,1284.03 L1248.98,1285.68 L1250.72,1287.33 L1252.46,1288.98 L1254.20,1290.63 L1255.94,1292.27 L1257.68,1293.92 L1259.42,1295.57 L1261.16,1297.21 L1262.90,1298.85 L1264.64,1300.49 L1266.38,1302.13 L1268.12,1303.76 L1269.86,1305.39 L1271.60,1307.02 L1273.34,1308.64 L1275.08,1310.26 L1276.82,1311.87 L1278.56,1313.48 L1280.30,1315.09 L1282.04,1316.69 L1283.78,1318.28 L1285.52,1319.87 L1287.26,1321.45 L1289.00,1323.02" fill="none" stroke="#7c93d7" stroke-width="5" stroke-dasharray="5.5 15.2 20.5 15.2" stroke-dashoffset="-2.94"/>
<path d="M245.00,1448.30 L246.74,1448.30 L248.48,1448.30 L250.22,1448.30 L251.96,1448.30 L253.70,1448.30 L255.44,1448.30 L257.18,1448.30 L258.92,1448.30 L260.66,1448.30 L262.40,1448.30 L264.14,1448.30 L265.88,1448.30 L267.62,1448.30 L269.36,1448.30 L271.10,1448.30 L272.84,1448.30 L274.58,1448.30 L276.32,1448.30 L278.06,1448.30 L279.80,1448.30 L281.54,1448.30 L283.28,1448.30 L285.02,1448.30 L286.76,1448.30 L288.50,1448.30 L290.24,1448.30 L291.98,1448.30 L293.72,1448.30 L295.46,1448.30 L297.20,1448.30 L298.94,1448.30 L300.68,1448.30 L302.42,1448.30 L304.16,1448.30 L305.90,1448.30 L307.64,1448.30 L309.38,1448.30 L311.12,1448.30 L312.86,1448.30 L314.60,1448.30 L316.34,1448.30 L318.08,1448.30 L319.82,1448.30 L321.56,1448.30 L323.30,1448.30 L325.04,1448.30 L326.78,1448.30 L328.52,1448.30 L330.26,1448.30 L332.00,1448.30 L333.74,1448.30 L335.48,1448.30 L337.22,1448.30 L338.96,1448.30 L340.70,1448.30 L342.44,1448.30 L344.18,1448.30 L345.92,1448.30 L347.66,1448.30 L349.40,1448.30 L351.14,1448.30 L352.88,1448.30 L354.62,1448.30 L356.36,1448.30 L358.10,1448.30 L359.84,1448.30 L361.58,1448.30 L363.32,1448.30 L365.06,1448.30 L366.80,1448.30 L368.54,1448.30 L370.28,1448.30 L372.02,1448.30 L373.76,1448.30 L375.50,1448.30 L377.24,1448.30 L378.98,1448.29 L380.72,1448.29 L382.46,1448.29 L384.20,1448.29 L385.94,1448.29 L387.68,1448.29 L389.42,1448.29 L391.16,1448.29 L392.90,1448.29 L394.64,1448.29 L396.38,1448.29 L398.12,1448.29 L399.86,1448.29 L401.60,1448.29 L403.34,1448.29 L405.08,1448.29 L406.82,1448.28 L408.56,1448.28 L410.30,1448.28 L412.04,1448.28 L413.78,1448.28 L415.52,1448.28 L417.26,1448.28 L419.00,1448.28 L420.74,1448.27 L422.48,1448.27 L424.22,1448.27 L425.96,1448.27 L427.70,1448.27 L429.44,1448.26 L431.18,1448.26 L432.92,1448.26 L434.66,1448.25 L436.40,1448.25 L438.14,1448.25 L439.88,1448.24 L441.62,1448.24 L443.36,1448.24 L445.10,1448.23 L446.84,1448.23 L448.58,1448.22 L450.32,1448.22 L452.06,1448.21 L453.80,1448.21 L455.54,1448.20 L457.28,1448.20 L459.02,1448.19 L460.76,1448.18 L462.50,1448.18 L464.24,1448.17 L465.98,1448.16 L467.72,1448.15 L469.46,1448.14 L471.20,1448.13 L472.94,1448.12 L474.68,1448.11 L476.42,1448.10 L478.16,1448.09 L479.90,1448.07 L481.64,1448.06 L483.38,1448.04 L485.12,1448.03 L486.86,1448.01 L488.60,1448.00 L490.34,1447.98 L492.08,1447.96 L493.82,1447.94 L495.56,1447.92 L497.30,1447.89 L499.04,1447.87 L500.78,1447.85 L502.52,1447.82 L504.26,1447.79 L506.00,1447.76 L507.74,1447.73 L509.48,1447.70 L511.22,1447.67 L512.96,1447.63 L514.70,1447.59 L516.44,1447.55 L518.18,1447.51 L519.92,1447.47 L521.66,1447.42 L523.40,1447.37 L525.14,1447.32 L526.88,1447.27 L528.62,1447.22 L530.36,1447.16 L532.10,1447.10 L533.84,1447.03 L535.58,1446.97 L537.32,1446.90 L539.06,1446.82 L540.80,1446.74 L542.54,1446.66 L544.28,1446.58 L546.02,1446.49 L547.76,1446.40 L549.50,1446.30 L551.24,1446.20 L552.98,1446.09 L554.72,1445.98 L556.46,1445.86 L558.20,1445.74 L559.94,1445.62 L561.68,1445.48 L563.42,1445.35 L565.16,1445.20 L566.90,1445.05 L568.64,1444.89 L570.38,1444.73 L572.12,1444.56 L573.86,1444.38 L575.60,1444.20 L577.34,1444.00 L579.08,1443.80 L580.82,1443.59 L582.56,1443.37 L584.30,1443.15 L586.04,1442.91 L587.78,1442.66 L589.52,1442.41 L591.26,1442.14 L593.00,1441.86 L594.74,1441.58 L596.48,1441.28 L598.22,1440.97 L599.96,1440.65 L601.70,1440.31 L603.44,1439.96 L605.18,1439.60 L606.92,1439.23 L608.66,1438.84 L610.40,1438.44 L612.14,1438.02 L613.88,1437.59 L615.62,1437.15 L617.36,1436.68 L619.10,1436.20 L620.84,1435.71 L622.58,1435.19 L624.32,1434.66 L626.06,1434.11 L627.80,1433.55 L629.54,1432.96 L631.28,1432.35 L633.02,1431.73 L634.76,1431.08 L636.50,1430.41 L638.24,1429.72 L639.98,1429.01 L641.72,1428.27 L643.46,1427.51 L645.20,1426.73 L646.94,1425.93 L648.68,1425.09 L650.42,1424.24 L652.16,1423.36 L653.90,1422.45 L655.64,1421.51 L657.38,1420.55 L659.12,1419.56 L660.86,1418.54 L662.60,1417.50 L664.34,1416.42 L666.08,1415.32 L667.82,1414.18 L669.56,1413.01 L671.30,1411.81 L673.04,1410.58 L674.78,1409.32 L676.52,1408.02 L678.26,1406.69 L680.00,1405.33 L681.74,1403.93 L683.48,1402.50 L685.22,1401.03 L686.96,1399.53 L688.70,1397.99 L690.44,1396.41 L692.18,1394.80 L693.92,1393.15 L695.66,1391.46 L697.40,1389.73 L699.14,1387.97 L700.88,1386.17 L702.62,1384.33 L704.36,1382.45 L706.10,1380.53 L707.84,1378.57 L709.58,1376.57 L711.32,1374.53 L713.06,1372.45 L714.80,1370.33 L716.54,1368.16 L718.28,1365.96 L720.02,1363.72 L721.76,1361.44 L723.50,1359.11 L725.24,1356.75 L726.98,1354.34 L728.72,1351.90 L730.46,1349.41 L732.20,1346.89 L733.94,1344.32 L735.68,1341.71 L737.42,1339.06 L739.16,1336.38 L740.90,1333.65 L742.64,1330.89 L744.38,1328.08 L746.12,1325.24 L747.86,1322.36 L749.60,1319.45 L751.34,1316.49 L753.08,1313.50 L754.82,1310.48 L756.56,1307.42 L758.30,1304.33 L760.04,1301.20 L761.78,1298.04 L763.52,1294.85 L765.26,1291.62 L767.00,1288.37 L768.74,1285.08 L770.48,1281.77 L772.22,1278.43 L773.96,1275.07 L775.70,1271.68 L777.44,1268.26 L779.18,1264.82 L780.92,1261.36 L782.66,1257.88 L784.40,1254.38 L786.14,1250.86 L787.88,1247.32 L789.62,1243.77 L791.36,1240.21 L793.10,1236.63 L794.84,1233.04 L796.58,1229.44 L798.32,1225.83 L800.06,1222.22 L801.80,1218.60 L803.54,1214.98 L805.28,1211.36 L807.02,1207.73 L808.76,1204.11 L810.50,1200.49 L812.24,1196.88 L813.98,1193.27 L815.72,1189.67 L817.46,1186.09 L819.20,1182.51 L820.94,1178.95 L822.68,1175.40 L824.42,1171.88 L826.16,1168.37 L827.90,1164.89 L829.64,1161.43 L831.38,1157.99 L833.12,1154.58 L834.86,1151.20 L836.60,1147.86 L838.34,1144.54 L840.08,1141.26 L841.82,1138.02 L843.56,1134.82 L845.30,1131.66 L847.04,1128.54 L848.78,1125.46 L850.52,1122.44 L852.26,1119.46 L854.00,1116.53 L855.74,1113.65 L857.48,1110.83 L859.22,1108.07 L860.96,1105.36 L862.70,1102.71 L864.44,1100.12 L866.18,1097.59 L867.92,1095.13 L869.66,1092.73 L871.40,1090.40 L873.14,1088.15 L874.88,1085.96 L876.62,1083.84 L878.36,1081.79 L880.10,1079.83 L881.84,1077.93 L883.58,1076.12 L885.32,1074.38 L887.06,1072.72 L888.80,1071.14 L890.54,1069.65 L892.28,1068.24 L894.02,1066.91 L895.76,1065.67 L897.50,1064.51 L899.24,1063.44 L900.98,1062.45 L902.72,1061.56 L904.46,1060.75 L906.20,1060.03 L907.94,1059.40 L909.68,1058.86 L911.42,1058.42 L913.16,1058.06 L914.90,1057.79 L916.64,1057.62 L918.38,1057.53 L920.12,1057.54 L921.86,1057.64 L923.60,1057.82 L925.34,1058.09 L927.08,1058.46 L928.82,1058.91 L930.56,1059.44 L932.30,1060.07 L934.04,1060.78 L935.78,1061.58 L937.52,1062.47 L939.26,1063.44 L941.00,1064.50 L942.74,1065.64 L944.48,1066.86 L946.22,1068.17 L947.96,1069.56 L949.70,1071.02 L951.44,1072.57 L953.18,1074.20 L954.92,1075.90 L956.66,1077.69 L958.40,1079.54 L960.14,1081.47 L961.88,1083.48 L963.62,1085.55 L965.36,1087.70 L967.10,1089.91 L968.84,1092.20 L970.58,1094.54 L972.32,1096.96 L974.06,1099.43 L975.80,1101.97 L977.54,1104.57 L979.28,1107.22 L981.02,1109.93 L982.76,1112.70 L984.50,1115.52 L986.24,1118.39 L987.98,1121.31 L989.72,1124.28 L991.46,1127.29 L993.20,1130.35 L994.94,1133.45 L996.68,1136.59 L998.42,1139.77 L1000.16,1142.99 L1001.90,1146.24 L1003.64,1149.53 L1005.38,1152.84 L1007.12,1156.19 L1008.86,1159.57 L1010.60,1162.97 L1012.34,1166.39 L1014.08,1169.84 L1015.82,1173.31 L1017.56,1176.79 L1019.30,1180.29 L1021.04,1183.81 L1022.78,1187.34 L1024.52,1190.89 L1026.26,1194.44 L1028.00,1198.00 L1029.74,1201.56 L1031.48,1205.14 L1033.22,1208.71 L1034.96,1212.28 L1036.70,1215.86 L1038.44,1219.43 L1040.18,1223.00 L1041.92,1226.56 L1043.66,1230.12 L1045.40,1233.67 L1047.14,1237.21 L1048.88,1240.73 L1050.62,1244.25 L1052.36,1247.75 L1054.10,1251.24 L1055.84,1254.71 L1057.58,1258.16 L1059.32,1261.59 L1061.06,1265.00 L1062.80,1268.39 L1064.54,1271.76 L1066.28,1275.11 L1068.02,1278.43 L1069.76,1281.72 L1071.50,1284.99 L1073.24,1288.23 L1074.98,1291.44 L1076.72,1294.62 L1078.46,1297.77 L1080.20,1300.89 L1081.94,1303.98 L1083.68,1307.04 L1085.42,1310.06 L1087.16,1313.05 L1088.90,1316.00 L1090.64,1318.92 L1092.38,1321.81 L1094.12,1324.65 L1095.86,1327.47 L1097.60,1330.24 L1099.34,1332.98 L1101.08,1335.67 L1102.82,1338.33 L1104.56,1340.96 L1106.30,1343.54 L1108.04,1346.08 L1109.78,1348.59 L1111.52,1351.06 L1113.26,1353.48 L1115.00,1355.87 L1116.74,1358.22 L1118.48,1360.52 L1120.22,1362.79 L1121.96,1365.02 L1123.70,1367.21 L1125.44,1369.36 L1127.18,1371.47 L1128.92,1373.54 L1130.66,1375.57 L1132.40,1377.56 L1134.14,1379.52 L1135.88,1381.43 L1137.62,1383.31 L1139.36,1385.14 L1141.10,1386.94 L1142.84,1388.71 L1144.58,1390.43 L1146.32,1392.12 L1148.06,1393.77 L1149.80,1395.38 L1151.54,1396.96 L1153.28,1398.50 L1155.02,1400.01 L1156.76,1401.48 L1158.50,1402.92 L1160.24,1404.32 L1161.98,1405.69 L1163.72,1407.03 L1165.46,1408.33 L1167.20,1409.60 L1168.94,1410.84 L1170.68,1412.05 L1172.42,1413.23 L1174.16,1414.37 L1175.90,1415.49 L1177.64,1416.58 L1179.38,1417.64 L1181.12,1418.66 L1182.86,1419.67 L1184.60,1420.64 L1186.34,1421.59 L1188.08,1422.51 L1189.82,1423.40 L1191.56,1424.27 L1193.30,1425.11 L1195.04,1425.93 L1196.78,1426.73 L1198.52,1427.50 L1200.26,1428.25 L1202.00,1428.97 L1203.74,1429.68 L1205.48,1430.36 L1207.22,1431.02 L1208.96,1431.66 L1210.70,1432.28 L1212.44,1432.88 L1214.18,1433.46 L1215.92,1434.03 L1217.66,1434.57 L1219.40,1435.10 L1221.14,1435.61 L1222.88,1436.10 L1224.62,1436.58 L1226.36,1437.04 L1228.10,1437.48 L1229.84,1437.91 L1231.58,1438.33 L1233.32,1438.73 L1235.06,1439.11 L1236.80,1439.49 L1238.54,1439.85 L1240.28,1440.19 L1242.02,1440.53 L1243.76,1440.85 L1245.50,1441.16 L1247.24,1441.46 L1248.98,1441.75 L1250.72,1442.02 L1252.46,1442.29 L1254.20,1442.55 L1255.94,1442.80 L1257.68,1443.03 L1259.42,1443.26 L1261.16,1443.48 L1262.90,1443.69 L1264.64,1443.90 L1266.38,1444.09 L1268.12,1444.28 L1269.86,1444.46 L1271.60,1444.63 L1273.34,1444.80 L1275.08,1444.96 L1276.82,1445.11 L1278.56,1445.25 L1280.30,1445.39 L1282.04,1445.53 L1283.78,1445.66 L1285.52,1445.78 L1287.26,1445.90 L1289.00,1446.01" fill="none" stroke="#5e9a8b" stroke-width="5" stroke-opacity="0.95"/>
<path d="M245.00,1448.30 L246.74,1448.30 L248.48,1448.30 L250.22,1448.30 L251.96,1448.30 L253.70,1448.30 L255.44,1448.30 L257.18,1448.30 L258.92,1448.30 L260.66,1448.30 L262.40,1448.30 L264.14,1448.30 L265.88,1448.30 L267.62,1448.30 L269.36,1448.30 L271.10,1448.30 L272.84,1448.30 L274.58,1448.30 L276.32,1448.30 L278.06,1448.30 L279.80,1448.30 L281.54,1448.30 L283.28,1448.30 L285.02,1448.30 L286.76,1448.30 L288.50,1448.30 L290.24,1448.30 L291.98,1448.30 L293.72,1448.30 L295.46,1448.30 L297.20,1448.30 L298.94,1448.30 L300.68,1448.30 L302.42,1448.30 L304.16,1448.30 L305.90,1448.30 L307.64,1448.30 L309.38,1448.29 L311.12,1448.29 L312.86,1448.29 L314.60,1448.29 L316.34,1448.29 L318.08,1448.29 L319.82,1448.29 L321.56,1448.29 L323.30,1448.29 L325.04,1448.29 L326.78,1448.29 L328.52,1448.29 L330.26,1448.29 L332.00,1448.29 L333.74,1448.29 L335.48,1448.29 L337.22,1448.28 L338.96,1448.28 L340.70,1448.28 L342.44,1448.28 L344.18,1448.28 L345.92,1448.28 L347.66,1448.28 L349.40,1448.27 L351.14,1448.27 L352.88,1448.27 L354.62,1448.27 L356.36,1448.27 L358.10,1448.26 L359.84,1448.26 L361.58,1448.26 L363.32,1448.25 L365.06,1448.25 L366.80,1448.25 L368.54,1448.24 L370.28,1448.24 L372.02,1448.24 L373.76,1448.23 L375.50,1448.23 L377.24,1448.22 L378.98,1448.22 L380.72,1448.21 L382.46,1448.21 L384.20,1448.20 L385.94,1448.19 L387.68,1448.19 L389.42,1448.18 L391.16,1448.17 L392.90,1448.16 L394.64,1448.15 L396.38,1448.15 L398.12,1448.14 L399.86,1448.12 L401.60,1448.11 L403.34,1448.10 L405.08,1448.09 L406.82,1448.08 L408.56,1448.06 L410.30,1448.05 L412.04,1448.03 L413.78,1448.01 L415.52,1448.00 L417.26,1447.98 L419.00,1447.96 L420.74,1447.94 L422.48,1447.92 L424.22,1447.89 L425.96,1447.87 L427.70,1447.84 L429.44,1447.81 L431.18,1447.79 L432.92,1447.76 L434.66,1447.72 L436.40,1447.69 L438.14,1447.65 L439.88,1447.62 L441.62,1447.58 L443.36,1447.54 L445.10,1447.49 L446.84,1447.45 L448.58,1447.40 L450.32,1447.35 L452.06,1447.29 L453.80,1447.24 L455.54,1447.18 L457.28,1447.12 L459.02,1447.05 L460.76,1446.98 L462.50,1446.91 L464.24,1446.84 L465.98,1446.76 L467.72,1446.67 L469.46,1446.59 L471.20,1446.50 L472.94,1446.40 L474.68,1446.30 L476.42,1446.19 L478.16,1446.08 L479.90,1445.97 L481.64,1445.85 L483.38,1445.72 L485.12,1445.59 L486.86,1445.45 L488.60,1445.31 L490.34,1445.16 L492.08,1445.00 L493.82,1444.84 L495.56,1444.66 L497.30,1444.48 L499.04,1444.30 L500.78,1444.10 L502.52,1443.90 L504.26,1443.69 L506.00,1443.46 L507.74,1443.23 L509.48,1442.99 L511.22,1442.74 L512.96,1442.48 L514.70,1442.21 L516.44,1441.92 L518.18,1441.63 L519.92,1441.32 L521.66,1441.00 L523.40,1440.67 L525.14,1440.32 L526.88,1439.97 L528.62,1439.59 L530.36,1439.21 L532.10,1438.80 L533.84,1438.39 L535.58,1437.95 L537.32,1437.51 L539.06,1437.04 L540.80,1436.56 L542.54,1436.06 L544.28,1435.54 L546.02,1435.00 L547.76,1434.44 L549.50,1433.87 L551.24,1433.27 L552.98,1432.65 L554.72,1432.01 L556.46,1431.35 L558.20,1430.67 L559.94,1429.96 L561.68,1429.23 L563.42,1428.48 L565.16,1427.70 L566.90,1426.89 L568.64,1426.06 L570.38,1425.20 L572.12,1424.32 L573.86,1423.41 L575.60,1422.47 L577.34,1421.50 L579.08,1420.50 L580.82,1419.47 L582.56,1418.42 L584.30,1417.33 L586.04,1416.20 L587.78,1415.05 L589.52,1413.86 L591.26,1412.64 L593.00,1411.39 L594.74,1410.10 L596.48,1408.77 L598.22,1407.41 L599.96,1406.01 L601.70,1404.58 L603.44,1403.11 L605.18,1401.60 L606.92,1400.05 L608.66,1398.46 L610.40,1396.83 L612.14,1395.17 L613.88,1393.46 L615.62,1391.71 L617.36,1389.92 L619.10,1388.09 L620.84,1386.22 L622.58,1384.30 L624.32,1382.35 L626.06,1380.34 L627.80,1378.30 L629.54,1376.21 L631.28,1374.08 L633.02,1371.90 L634.76,1369.68 L636.50,1367.42 L638.24,1365.11 L639.98,1362.75 L641.72,1360.35 L643.46,1357.90 L645.20,1355.41 L646.94,1352.88 L648.68,1350.30 L650.42,1347.67 L652.16,1345.00 L653.90,1342.29 L655.64,1339.53 L657.38,1336.73 L659.12,1333.88 L660.86,1330.99 L662.60,1328.06 L664.34,1325.08 L666.08,1322.06 L667.82,1319.00 L669.56,1315.90 L671.30,1312.75 L673.04,1309.57 L674.78,1306.35 L676.52,1303.08 L678.26,1299.78 L680.00,1296.44 L681.74,1293.07 L683.48,1289.66 L685.22,1286.21 L686.96,1282.73 L688.70,1279.22 L690.44,1275.67 L692.18,1272.10 L693.92,1268.49 L695.66,1264.86 L697.40,1261.20 L699.14,1257.51 L700.88,1253.80 L702.62,1250.07 L704.36,1246.31 L706.10,1242.54 L707.84,1238.74 L709.58,1234.93 L711.32,1231.10 L713.06,1227.26 L714.80,1223.41 L716.54,1219.54 L718.28,1215.67 L720.02,1211.79 L721.76,1207.90 L723.50,1204.01 L725.24,1200.12 L726.98,1196.23 L728.72,1192.34 L730.46,1188.46 L732.20,1184.58 L733.94,1180.71 L735.68,1176.85 L737.42,1173.00 L739.16,1169.17 L740.90,1165.36 L742.64,1161.56 L744.38,1157.78 L746.12,1154.03 L747.86,1150.30 L749.60,1146.60 L751.34,1142.93 L753.08,1139.29 L754.82,1135.69 L756.56,1132.12 L758.30,1128.59 L760.04,1125.10 L761.78,1121.65 L763.52,1118.25 L765.26,1114.89 L767.00,1111.58 L768.74,1108.33 L770.48,1105.13 L772.22,1101.98 L773.96,1098.89 L775.70,1095.86 L777.44,1092.89 L779.18,1089.99 L780.92,1087.15 L782.66,1084.38 L784.40,1081.68 L786.14,1079.05 L787.88,1076.49 L789.62,1074.01 L791.36,1071.60 L793.10,1069.27 L794.84,1067.02 L796.58,1064.86 L798.32,1062.77 L800.06,1060.77 L801.80,1058.86 L803.54,1057.04 L805.28,1055.30 L807.02,1053.65 L808.76,1052.09 L810.50,1050.63 L812.24,1049.26 L813.98,1047.98 L815.72,1046.80 L817.46,1045.72 L819.20,1044.73 L820.94,1043.84 L822.68,1043.04 L824.42,1042.35 L826.16,1041.76 L827.90,1041.26 L829.64,1040.87 L831.38,1040.57 L833.12,1040.38 L834.86,1040.29 L836.60,1040.29 L838.34,1040.40 L840.08,1040.60 L841.82,1040.90 L843.56,1041.29 L845.30,1041.79 L847.04,1042.38 L848.78,1043.06 L850.52,1043.84 L852.26,1044.71 L854.00,1045.68 L855.74,1046.74 L857.48,1047.89 L859.22,1049.14 L860.96,1050.48 L862.70,1051.90 L864.44,1053.42 L866.18,1055.02 L867.92,1056.71 L869.66,1058.48 L871.40,1060.34 L873.14,1062.29 L874.88,1064.31 L876.62,1066.42 L878.36,1068.60 L880.10,1070.86 L881.84,1073.20 L883.58,1075.61 L885.32,1078.09 L887.06,1080.65 L888.80,1083.27 L890.54,1085.96 L892.28,1088.72 L894.02,1091.54 L895.76,1094.43 L897.50,1097.37 L899.24,1100.37 L900.98,1103.43 L902.72,1106.55 L904.46,1109.71 L906.20,1112.93 L907.94,1116.19 L909.68,1119.51 L911.42,1122.86 L913.16,1126.26 L914.90,1129.70 L916.64,1133.18 L918.38,1136.69 L920.12,1140.24 L921.86,1143.82 L923.60,1147.43 L925.34,1151.06 L927.08,1154.73 L928.82,1158.42 L930.56,1162.13 L932.30,1165.85 L934.04,1169.60 L935.78,1173.36 L937.52,1177.14 L939.26,1180.93 L941.00,1184.73 L942.74,1188.53 L944.48,1192.35 L946.22,1196.16 L947.96,1199.98 L949.70,1203.80 L951.44,1207.62 L953.18,1211.43 L954.92,1215.24 L956.66,1219.04 L958.40,1222.84 L960.14,1226.62 L961.88,1230.40 L963.62,1234.16 L965.36,1237.90 L967.10,1241.63 L968.84,1245.34 L970.58,1249.03 L972.32,1252.70 L974.06,1256.35 L975.80,1259.98 L977.54,1263.58 L979.28,1267.15 L981.02,1270.70 L982.76,1274.22 L984.50,1277.72 L986.24,1281.18 L987.98,1284.61 L989.72,1288.01 L991.46,1291.37 L993.20,1294.70 L994.94,1298.00 L996.68,1301.26 L998.42,1304.48 L1000.16,1307.67 L1001.90,1310.82 L1003.64,1313.93 L1005.38,1317.00 L1007.12,1320.03 L1008.86,1323.02 L1010.60,1325.97 L1012.34,1328.88 L1014.08,1331.75 L1015.82,1334.57 L1017.56,1337.36 L1019.30,1340.10 L1021.04,1342.80 L1022.78,1345.46 L1024.52,1348.07 L1026.26,1350.64 L1028.00,1353.17 L1029.74,1355.65 L1031.48,1358.09 L1033.22,1360.49 L1034.96,1362.84 L1036.70,1365.15 L1038.44,1367.42 L1040.18,1369.64 L1041.92,1371.82 L1043.66,1373.96 L1045.40,1376.06 L1047.14,1378.11 L1048.88,1380.12 L1050.62,1382.09 L1052.36,1384.02 L1054.10,1385.91 L1055.84,1387.75 L1057.58,1389.56 L1059.32,1391.32 L1061.06,1393.05 L1062.80,1394.73 L1064.54,1396.38 L1066.28,1397.99 L1068.02,1399.56 L1069.76,1401.09 L1071.50,1402.58 L1073.24,1404.04 L1074.98,1405.46 L1076.72,1406.85 L1078.46,1408.20 L1080.20,1409.51 L1081.94,1410.79 L1083.68,1412.04 L1085.42,1413.26 L1087.16,1414.44 L1088.90,1415.59 L1090.64,1416.71 L1092.38,1417.79 L1094.12,1418.85 L1095.86,1419.88 L1097.60,1420.88 L1099.34,1421.85 L1101.08,1422.79 L1102.82,1423.70 L1104.56,1424.59 L1106.30,1425.45 L1108.04,1426.28 L1109.78,1427.09 L1111.52,1427.87 L1113.26,1428.63 L1115.00,1429.37 L1116.74,1430.08 L1118.48,1430.77 L1120.22,1431.44 L1121.96,1432.08 L1123.70,1432.71 L1125.44,1433.31 L1127.18,1433.90 L1128.92,1434.46 L1130.66,1435.01 L1132.40,1435.54 L1134.14,1436.05 L1135.88,1436.54 L1137.62,1437.01 L1139.36,1437.47 L1141.10,1437.91 L1142.84,1438.34 L1144.58,1438.75 L1146.32,1439.15 L1148.06,1439.53 L1149.80,1439.90 L1151.54,1440.25 L1153.28,1440.59 L1155.02,1440.92 L1156.76,1441.24 L1158.50,1441.54 L1160.24,1441.84 L1161.98,1442.12 L1163.72,1442.39 L1165.46,1442.65 L1167.20,1442.90 L1168.94,1443.14 L1170.68,1443.37 L1172.42,1443.59 L1174.16,1443.80 L1175.90,1444.01 L1177.64,1444.20 L1179.38,1444.39 L1181.12,1444.57 L1182.86,1444.75 L1184.60,1444.91 L1186.34,1445.07 L1188.08,1445.22 L1189.82,1445.37 L1191.56,1445.51 L1193.30,1445.64 L1195.04,1445.77 L1196.78,1445.89 L1198.52,1446.00 L1200.26,1446.12 L1202.00,1446.22 L1203.74,1446.32 L1205.48,1446.42 L1207.22,1446.51 L1208.96,1446.60 L1210.70,1446.69 L1212.44,1446.77 L1214.18,1446.85 L1215.92,1446.92 L1217.66,1446.99 L1219.40,1447.06 L1221.14,1447.12 L1222.88,1447.18 L1224.62,1447.24 L1226.36,1447.29 L1228.10,1447.35 L1229.84,1447.40 L1231.58,1447.44 L1233.32,1447.49 L1235.06,1447.53 L1236.80,1447.57 L1238.54,1447.61 L1240.28,1447.65 L1242.02,1447.68 L1243.76,1447.72 L1245.50,1447.75 L1247.24,1447.78 L1248.98,1447.81 L1250.72,1447.84 L1252.46,1447.86 L1254.20,1447.89 L1255.94,1447.91 L1257.68,1447.93 L1259.42,1447.95 L1261.16,1447.97 L1262.90,1447.99 L1264.64,1448.01 L1266.38,1448.02 L1268.12,1448.04 L1269.86,1448.05 L1271.60,1448.07 L1273.34,1448.08 L1275.08,1448.10 L1276.82,1448.11 L1278.56,1448.12 L1280.30,1448.13 L1282.04,1448.14 L1283.78,1448.15 L1285.52,1448.16 L1287.26,1448.17 L1289.00,1448.17" fill="none" stroke="#72cfba" stroke-width="5" stroke-opacity="0.96"/>
<line x1="835.6" y1="983.5" x2="835.6" y2="1448" stroke="#c8c8c8" stroke-width="1.5" stroke-dasharray="8.2 9.5"/>
<line x1="919.1" y1="983.5" x2="919.1" y2="1448" stroke="#c8c8c8" stroke-width="1.5" stroke-dasharray="8.2 9.5"/>
<path d="M915.7,985.3 L839.0999999999999,985.3 M847.5999999999999,980.3 L838.3,985.3 L847.5999999999999,990.3" fill="none" stroke="#000" stroke-width="2.8" stroke-linecap="round" stroke-linejoin="round"/>
<text x="788.8" y="968.8" font-size="29.3" fill="#000">Impulsive <tspan font-style="italic">D</tspan><tspan font-style="italic" font-size="20.5" dy="2">KL</tspan></text>
<rect x="222.1" y="951.6999999999999" width="98.9" height="58.5" rx="3" fill="#fff" stroke="#3e8b78" stroke-width="5.8"/>
<text x="271.5" y="973.2" font-size="14.6" fill="#111" text-anchor="middle" >Block 1</text>
<text x="271.5" y="998.8" font-size="19.5" fill="#111" text-anchor="middle" >Self1</text>
<rect x="367.09999999999997" y="951.6999999999999" width="98.9" height="58.5" rx="3" fill="#fff" stroke="#5b88d2" stroke-width="5.8"/>
<text x="416.5" y="973.2" font-size="14.6" fill="#111" text-anchor="middle" >Block 2</text>
<text x="416.5" y="998.8" font-size="19.5" fill="#111" text-anchor="middle" >Other1</text>
<rect x="512.1" y="951.6999999999999" width="98.9" height="58.5" rx="3" fill="#fff" stroke="#76d5c1" stroke-width="5.8"/>
<text x="561.5" y="973.2" font-size="14.6" fill="#111" text-anchor="middle" >Block 3</text>
<text x="561.5" y="998.8" font-size="19.5" fill="#111" text-anchor="middle" >Self2</text>
<line x1="331" y1="981" x2="354" y2="981" stroke="#000" stroke-width="2.2" />
<path d="M346,976.2 L356,981 L346,985.8 Z" fill="#000"/>
<line x1="477" y1="981" x2="499" y2="981" stroke="#000" stroke-width="2.2" />
<path d="M491,976.2 L501,981 L491,985.8 Z" fill="#000"/>
<g transform="translate(1131.5,1143.3) scale(1,1.07)"><text x="0" y="0" font-size="29.8" fill="#7391d9" text-anchor="middle" font-style="italic">Other1</text></g>
<text x="1131.5" y="1166" font-size="24.6" fill="#7391d9" text-anchor="middle" font-style="italic" >(Impulsive Other)</text>
<g transform="translate(1226.3,1376) scale(1,1.07)"><text x="0" y="0" font-size="29.3" fill="#2a7d67" text-anchor="middle" font-style="italic">Self1</text></g>
<text x="1226.5" y="1399.5" font-size="24.4" fill="#2a7d67" text-anchor="middle" font-style="italic" >(baseline)</text>
<g transform="translate(490.3,1355.8) scale(1,1.07)"><text x="0" y="0" font-size="29.5" fill="#4db89a" text-anchor="middle" font-style="italic">Self2<tspan fill="#000" font-size="25" dx="1" dy="-1.5">*</tspan></text></g>
<text x="489.4" y="1377.8" font-size="24.4" fill="#4db89a" text-anchor="middle" font-style="italic" >(after Impulsive Other)</text>
<text x="489.7" y="1407.5" font-size="22" text-anchor="middle" fill="#000" font-style="italic">*shifted from <tspan fill="#2a7d67">Self1</tspan></text>
<line x1="95" y1="1556" x2="1356" y2="1556" stroke="#f2f2f2" stroke-width="1.5" />
<line x1="95" y1="1580" x2="1356" y2="1580" stroke="#f2f2f2" stroke-width="1.5" />
<line x1="192.5" y1="1592" x2="192.5" y2="2126" stroke="#000" stroke-width="2.8" />
<line x1="191.1" y1="2124.8" x2="1341.5" y2="2124.8" stroke="#000" stroke-width="2.8" />
<line x1="186" y1="2101" x2="192.5" y2="2101" stroke="#333" stroke-width="2.2" />
<text x="180.2" y="2110.2" font-size="25.8" fill="#444" text-anchor="end" >0.0</text>
<line x1="186" y1="1993.4" x2="192.5" y2="1993.4" stroke="#333" stroke-width="2.2" />
<text x="180.2" y="2002.6" font-size="25.8" fill="#444" text-anchor="end" >0.1</text>
<line x1="186" y1="1885.8" x2="192.5" y2="1885.8" stroke="#333" stroke-width="2.2" />
<text x="180.2" y="1895" font-size="25.8" fill="#444" text-anchor="end" >0.2</text>
<line x1="186" y1="1778.2" x2="192.5" y2="1778.2" stroke="#333" stroke-width="2.2" />
<text x="180.2" y="1787.4" font-size="25.8" fill="#444" text-anchor="end" >0.3</text>
<line x1="186" y1="1670.6" x2="192.5" y2="1670.6" stroke="#333" stroke-width="2.2" />
<text x="180.2" y="1679.8" font-size="25.8" fill="#444" text-anchor="end" >0.4</text>
<line x1="245" y1="2124.8" x2="245" y2="2131.5" stroke="#333" stroke-width="2.2" />
<text x="245" y="2154" font-size="26" fill="#000" text-anchor="middle" >-10.0</text>
<line x1="506" y1="2124.8" x2="506" y2="2131.5" stroke="#333" stroke-width="2.2" />
<text x="506" y="2154" font-size="26" fill="#000" text-anchor="middle" >-7.5</text>
<line x1="767" y1="2124.8" x2="767" y2="2131.5" stroke="#333" stroke-width="2.2" />
<text x="767" y="2154" font-size="26" fill="#000" text-anchor="middle" >-5.0</text>
<line x1="1028" y1="2124.8" x2="1028" y2="2131.5" stroke="#333" stroke-width="2.2" />
<text x="1028" y="2154" font-size="26" fill="#000" text-anchor="middle" >-2.5</text>
<line x1="1289" y1="2124.8" x2="1289" y2="2131.5" stroke="#333" stroke-width="2.2" />
<text x="1289" y="2154" font-size="26" fill="#000" text-anchor="middle" >0.0</text>
<text transform="translate(131.6,1857.1) rotate(-90)" font-size="34" text-anchor="middle" fill="#000">Density</text>
<text x="767.1" y="2189.5" font-size="35" text-anchor="middle" fill="#000">Discount rates (<tspan font-style="italic">k</tspan>)</text>
<path d="M245.00,2097.61 L246.74,2097.49 L248.48,2097.36 L250.22,2097.23 L251.96,2097.10 L253.70,2096.96 L255.44,2096.81 L257.18,2096.67 L258.92,2096.51 L260.66,2096.36 L262.40,2096.19 L264.14,2096.03 L265.88,2095.86 L267.62,2095.68 L269.36,2095.50 L271.10,2095.31 L272.84,2095.12 L274.58,2094.92 L276.32,2094.71 L278.06,2094.50 L279.80,2094.28 L281.54,2094.06 L283.28,2093.83 L285.02,2093.59 L286.76,2093.35 L288.50,2093.10 L290.24,2092.84 L291.98,2092.58 L293.72,2092.31 L295.46,2092.03 L297.20,2091.74 L298.94,2091.45 L300.68,2091.14 L302.42,2090.83 L304.16,2090.51 L305.90,2090.19 L307.64,2089.85 L309.38,2089.51 L311.12,2089.15 L312.86,2088.79 L314.60,2088.42 L316.34,2088.04 L318.08,2087.64 L319.82,2087.24 L321.56,2086.83 L323.30,2086.41 L325.04,2085.98 L326.78,2085.54 L328.52,2085.08 L330.26,2084.62 L332.00,2084.14 L333.74,2083.66 L335.48,2083.16 L337.22,2082.65 L338.96,2082.13 L340.70,2081.59 L342.44,2081.04 L344.18,2080.49 L345.92,2079.91 L347.66,2079.33 L349.40,2078.73 L351.14,2078.12 L352.88,2077.50 L354.62,2076.86 L356.36,2076.21 L358.10,2075.54 L359.84,2074.86 L361.58,2074.17 L363.32,2073.46 L365.06,2072.74 L366.80,2072.00 L368.54,2071.25 L370.28,2070.48 L372.02,2069.69 L373.76,2068.90 L375.50,2068.08 L377.24,2067.25 L378.98,2066.40 L380.72,2065.54 L382.46,2064.66 L384.20,2063.76 L385.94,2062.85 L387.68,2061.92 L389.42,2060.97 L391.16,2060.01 L392.90,2059.03 L394.64,2058.03 L396.38,2057.01 L398.12,2055.98 L399.86,2054.93 L401.60,2053.86 L403.34,2052.77 L405.08,2051.67 L406.82,2050.54 L408.56,2049.40 L410.30,2048.24 L412.04,2047.06 L413.78,2045.87 L415.52,2044.65 L417.26,2043.42 L419.00,2042.16 L420.74,2040.89 L422.48,2039.60 L424.22,2038.29 L425.96,2036.96 L427.70,2035.61 L429.44,2034.25 L431.18,2032.86 L432.92,2031.46 L434.66,2030.04 L436.40,2028.60 L438.14,2027.14 L439.88,2025.66 L441.62,2024.16 L443.36,2022.64 L445.10,2021.11 L446.84,2019.55 L448.58,2017.98 L450.32,2016.39 L452.06,2014.78 L453.80,2013.15 L455.54,2011.51 L457.28,2009.85 L459.02,2008.17 L460.76,2006.47 L462.50,2004.75 L464.24,2003.02 L465.98,2001.27 L467.72,1999.50 L469.46,1997.72 L471.20,1995.92 L472.94,1994.10 L474.68,1992.27 L476.42,1990.43 L478.16,1988.56 L479.90,1986.68 L481.64,1984.79 L483.38,1982.88 L485.12,1980.96 L486.86,1979.02 L488.60,1977.07 L490.34,1975.11 L492.08,1973.14 L493.82,1971.15 L495.56,1969.15 L497.30,1967.13 L499.04,1965.11 L500.78,1963.07 L502.52,1961.03 L504.26,1958.97 L506.00,1956.90 L507.74,1954.83 L509.48,1952.75 L511.22,1950.65 L512.96,1948.55 L514.70,1946.44 L516.44,1944.33 L518.18,1942.21 L519.92,1940.08 L521.66,1937.95 L523.40,1935.81 L525.14,1933.67 L526.88,1931.52 L528.62,1929.37 L530.36,1927.22 L532.10,1925.07 L533.84,1922.91 L535.58,1920.76 L537.32,1918.60 L539.06,1916.45 L540.80,1914.29 L542.54,1912.14 L544.28,1909.99 L546.02,1907.84 L547.76,1905.70 L549.50,1903.56 L551.24,1901.42 L552.98,1899.29 L554.72,1897.17 L556.46,1895.05 L558.20,1892.94 L559.94,1890.84 L561.68,1888.75 L563.42,1886.66 L565.16,1884.59 L566.90,1882.53 L568.64,1880.48 L570.38,1878.44 L572.12,1876.42 L573.86,1874.41 L575.60,1872.41 L577.34,1870.43 L579.08,1868.46 L580.82,1866.51 L582.56,1864.58 L584.30,1862.67 L586.04,1860.77 L587.78,1858.90 L589.52,1857.04 L591.26,1855.20 L593.00,1853.39 L594.74,1851.60 L596.48,1849.83 L598.22,1848.08 L599.96,1846.36 L601.70,1844.66 L603.44,1842.99 L605.18,1841.34 L606.92,1839.72 L608.66,1838.12 L610.40,1836.56 L612.14,1835.02 L613.88,1833.51 L615.62,1832.03 L617.36,1830.59 L619.10,1829.17 L620.84,1827.78 L622.58,1826.43 L624.32,1825.10 L626.06,1823.82 L627.80,1822.56 L629.54,1821.34 L631.28,1820.15 L633.02,1819.00 L634.76,1817.88 L636.50,1816.80 L638.24,1815.75 L639.98,1814.74 L641.72,1813.77 L643.46,1812.84 L645.20,1811.94 L646.94,1811.09 L648.68,1810.27 L650.42,1809.49 L652.16,1808.75 L653.90,1808.05 L655.64,1807.39 L657.38,1806.77 L659.12,1806.19 L660.86,1805.65 L662.60,1805.15 L664.34,1804.69 L666.08,1804.27 L667.82,1803.90 L669.56,1803.57 L671.30,1803.28 L673.04,1803.03 L674.78,1802.82 L676.52,1802.65 L678.26,1802.53 L680.00,1802.45 L681.74,1802.41 L683.48,1802.42 L685.22,1802.46 L686.96,1802.54 L688.70,1802.66 L690.44,1802.81 L692.18,1803.00 L693.92,1803.23 L695.66,1803.50 L697.40,1803.81 L699.14,1804.15 L700.88,1804.53 L702.62,1804.95 L704.36,1805.40 L706.10,1805.89 L707.84,1806.42 L709.58,1806.98 L711.32,1807.58 L713.06,1808.22 L714.80,1808.89 L716.54,1809.60 L718.28,1810.34 L720.02,1811.11 L721.76,1811.93 L723.50,1812.77 L725.24,1813.65 L726.98,1814.56 L728.72,1815.51 L730.46,1816.49 L732.20,1817.50 L733.94,1818.55 L735.68,1819.62 L737.42,1820.73 L739.16,1821.87 L740.90,1823.04 L742.64,1824.24 L744.38,1825.47 L746.12,1826.72 L747.86,1828.01 L749.60,1829.33 L751.34,1830.67 L753.08,1832.04 L754.82,1833.44 L756.56,1834.87 L758.30,1836.32 L760.04,1837.79 L761.78,1839.29 L763.52,1840.82 L765.26,1842.37 L767.00,1843.94 L768.74,1845.54 L770.48,1847.15 L772.22,1848.79 L773.96,1850.46 L775.70,1852.14 L777.44,1853.84 L779.18,1855.56 L780.92,1857.30 L782.66,1859.06 L784.40,1860.83 L786.14,1862.63 L787.88,1864.44 L789.62,1866.26 L791.36,1868.10 L793.10,1869.96 L794.84,1871.83 L796.58,1873.72 L798.32,1875.61 L800.06,1877.52 L801.80,1879.44 L803.54,1881.38 L805.28,1883.32 L807.02,1885.27 L808.76,1887.24 L810.50,1889.21 L812.24,1891.19 L813.98,1893.18 L815.72,1895.18 L817.46,1897.18 L819.20,1899.19 L820.94,1901.20 L822.68,1903.22 L824.42,1905.24 L826.16,1907.27 L827.90,1909.30 L829.64,1911.34 L831.38,1913.37 L833.12,1915.41 L834.86,1917.45 L836.60,1919.49 L838.34,1921.53 L840.08,1923.57 L841.82,1925.60 L843.56,1927.64 L845.30,1929.68 L847.04,1931.71 L848.78,1933.74 L850.52,1935.76 L852.26,1937.79 L854.00,1939.80 L855.74,1941.82 L857.48,1943.83 L859.22,1945.83 L860.96,1947.82 L862.70,1949.81 L864.44,1951.80 L866.18,1953.77 L867.92,1955.74 L869.66,1957.70 L871.40,1959.65 L873.14,1961.59 L874.88,1963.53 L876.62,1965.45 L878.36,1967.36 L880.10,1969.26 L881.84,1971.16 L883.58,1973.04 L885.32,1974.91 L887.06,1976.77 L888.80,1978.61 L890.54,1980.45 L892.28,1982.27 L894.02,1984.08 L895.76,1985.88 L897.50,1987.66 L899.24,1989.43 L900.98,1991.19 L902.72,1992.93 L904.46,1994.66 L906.20,1996.37 L907.94,1998.07 L909.68,1999.75 L911.42,2001.42 L913.16,2003.08 L914.90,2004.72 L916.64,2006.34 L918.38,2007.95 L920.12,2009.54 L921.86,2011.12 L923.60,2012.68 L925.34,2014.22 L927.08,2015.75 L928.82,2017.26 L930.56,2018.76 L932.30,2020.24 L934.04,2021.70 L935.78,2023.14 L937.52,2024.57 L939.26,2025.99 L941.00,2027.38 L942.74,2028.76 L944.48,2030.12 L946.22,2031.47 L947.96,2032.80 L949.70,2034.11 L951.44,2035.40 L953.18,2036.68 L954.92,2037.94 L956.66,2039.18 L958.40,2040.41 L960.14,2041.62 L961.88,2042.81 L963.62,2043.99 L965.36,2045.15 L967.10,2046.29 L968.84,2047.42 L970.58,2048.53 L972.32,2049.63 L974.06,2050.70 L975.80,2051.76 L977.54,2052.81 L979.28,2053.84 L981.02,2054.85 L982.76,2055.85 L984.50,2056.83 L986.24,2057.79 L987.98,2058.74 L989.72,2059.67 L991.46,2060.59 L993.20,2061.49 L994.94,2062.38 L996.68,2063.25 L998.42,2064.11 L1000.16,2064.95 L1001.90,2065.78 L1003.64,2066.59 L1005.38,2067.39 L1007.12,2068.17 L1008.86,2068.94 L1010.60,2069.70 L1012.34,2070.44 L1014.08,2071.17 L1015.82,2071.88 L1017.56,2072.58 L1019.30,2073.27 L1021.04,2073.95 L1022.78,2074.61 L1024.52,2075.25 L1026.26,2075.89 L1028.00,2076.51 L1029.74,2077.12 L1031.48,2077.72 L1033.22,2078.31 L1034.96,2078.88 L1036.70,2079.44 L1038.44,2080.00 L1040.18,2080.53 L1041.92,2081.06 L1043.66,2081.58 L1045.40,2082.09 L1047.14,2082.58 L1048.88,2083.06 L1050.62,2083.54 L1052.36,2084.00 L1054.10,2084.46 L1055.84,2084.90 L1057.58,2085.33 L1059.32,2085.76 L1061.06,2086.17 L1062.80,2086.57 L1064.54,2086.97 L1066.28,2087.36 L1068.02,2087.73 L1069.76,2088.10 L1071.50,2088.46 L1073.24,2088.81 L1074.98,2089.16 L1076.72,2089.49 L1078.46,2089.82 L1080.20,2090.14 L1081.94,2090.45 L1083.68,2090.75 L1085.42,2091.05 L1087.16,2091.33 L1088.90,2091.62 L1090.64,2091.89 L1092.38,2092.16 L1094.12,2092.42 L1095.86,2092.67 L1097.60,2092.92 L1099.34,2093.16 L1101.08,2093.40 L1102.82,2093.63 L1104.56,2093.85 L1106.30,2094.07 L1108.04,2094.28 L1109.78,2094.48 L1111.52,2094.68 L1113.26,2094.88 L1115.00,2095.07 L1116.74,2095.25 L1118.48,2095.43 L1120.22,2095.61 L1121.96,2095.78 L1123.70,2095.94 L1125.44,2096.10 L1127.18,2096.26 L1128.92,2096.41 L1130.66,2096.56 L1132.40,2096.70 L1134.14,2096.84 L1135.88,2096.97 L1137.62,2097.10 L1139.36,2097.23 L1141.10,2097.36 L1142.84,2097.48 L1144.58,2097.59 L1146.32,2097.71 L1148.06,2097.82 L1149.80,2097.92 L1151.54,2098.02 L1153.28,2098.12 L1155.02,2098.22 L1156.76,2098.32 L1158.50,2098.41 L1160.24,2098.50 L1161.98,2098.58 L1163.72,2098.67 L1165.46,2098.75 L1167.20,2098.82 L1168.94,2098.90 L1170.68,2098.97 L1172.42,2099.04 L1174.16,2099.11 L1175.90,2099.18 L1177.64,2099.24 L1179.38,2099.31 L1181.12,2099.37 L1182.86,2099.42 L1184.60,2099.48 L1186.34,2099.54 L1188.08,2099.59 L1189.82,2099.64 L1191.56,2099.69 L1193.30,2099.74 L1195.04,2099.78 L1196.78,2099.83 L1198.52,2099.87 L1200.26,2099.91 L1202.00,2099.95 L1203.74,2099.99 L1205.48,2100.03 L1207.22,2100.07 L1208.96,2100.10 L1210.70,2100.14 L1212.44,2100.17 L1214.18,2100.20 L1215.92,2100.23 L1217.66,2100.26 L1219.40,2100.29 L1221.14,2100.32 L1222.88,2100.34 L1224.62,2100.37 L1226.36,2100.39 L1228.10,2100.42 L1229.84,2100.44 L1231.58,2100.46 L1233.32,2100.48 L1235.06,2100.50 L1236.80,2100.52 L1238.54,2100.54 L1240.28,2100.56 L1242.02,2100.58 L1243.76,2100.59 L1245.50,2100.61 L1247.24,2100.63 L1248.98,2100.64 L1250.72,2100.66 L1252.46,2100.67 L1254.20,2100.68 L1255.94,2100.70 L1257.68,2100.71 L1259.42,2100.72 L1261.16,2100.73 L1262.90,2100.74 L1264.64,2100.75 L1266.38,2100.76 L1268.12,2100.77 L1269.86,2100.78 L1271.60,2100.79 L1273.34,2100.80 L1275.08,2100.81 L1276.82,2100.82 L1278.56,2100.83 L1280.30,2100.83 L1282.04,2100.84 L1283.78,2100.85 L1285.52,2100.85 L1287.26,2100.86 L1289.00,2100.87" fill="none" stroke="#e8c262" stroke-width="5" stroke-dasharray="5.5 15.2 20.5 15.2" stroke-dashoffset="-55.33"/>
<path d="M245.00,2100.33 L246.74,2100.30 L248.48,2100.27 L250.22,2100.24 L251.96,2100.21 L253.70,2100.18 L255.44,2100.14 L257.18,2100.11 L258.92,2100.07 L260.66,2100.04 L262.40,2100.00 L264.14,2099.96 L265.88,2099.92 L267.62,2099.87 L269.36,2099.83 L271.10,2099.78 L272.84,2099.74 L274.58,2099.69 L276.32,2099.64 L278.06,2099.58 L279.80,2099.53 L281.54,2099.47 L283.28,2099.41 L285.02,2099.35 L286.76,2099.29 L288.50,2099.23 L290.24,2099.16 L291.98,2099.09 L293.72,2099.02 L295.46,2098.95 L297.20,2098.87 L298.94,2098.79 L300.68,2098.71 L302.42,2098.63 L304.16,2098.54 L305.90,2098.45 L307.64,2098.36 L309.38,2098.26 L311.12,2098.17 L312.86,2098.06 L314.60,2097.96 L316.34,2097.85 L318.08,2097.74 L319.82,2097.62 L321.56,2097.51 L323.30,2097.38 L325.04,2097.26 L326.78,2097.13 L328.52,2096.99 L330.26,2096.86 L332.00,2096.71 L333.74,2096.57 L335.48,2096.42 L337.22,2096.26 L338.96,2096.10 L340.70,2095.94 L342.44,2095.77 L344.18,2095.59 L345.92,2095.41 L347.66,2095.23 L349.40,2095.04 L351.14,2094.84 L352.88,2094.64 L354.62,2094.44 L356.36,2094.22 L358.10,2094.01 L359.84,2093.78 L361.58,2093.55 L363.32,2093.31 L365.06,2093.07 L366.80,2092.82 L368.54,2092.56 L370.28,2092.30 L372.02,2092.03 L373.76,2091.75 L375.50,2091.47 L377.24,2091.17 L378.98,2090.87 L380.72,2090.56 L382.46,2090.25 L384.20,2089.92 L385.94,2089.59 L387.68,2089.25 L389.42,2088.90 L391.16,2088.54 L392.90,2088.18 L394.64,2087.80 L396.38,2087.42 L398.12,2087.02 L399.86,2086.62 L401.60,2086.20 L403.34,2085.78 L405.08,2085.35 L406.82,2084.90 L408.56,2084.45 L410.30,2083.98 L412.04,2083.51 L413.78,2083.02 L415.52,2082.53 L417.26,2082.02 L419.00,2081.50 L420.74,2080.97 L422.48,2080.42 L424.22,2079.87 L425.96,2079.30 L427.70,2078.72 L429.44,2078.13 L431.18,2077.52 L432.92,2076.91 L434.66,2076.28 L436.40,2075.63 L438.14,2074.98 L439.88,2074.31 L441.62,2073.63 L443.36,2072.93 L445.10,2072.22 L446.84,2071.49 L448.58,2070.75 L450.32,2070.00 L452.06,2069.23 L453.80,2068.45 L455.54,2067.65 L457.28,2066.84 L459.02,2066.01 L460.76,2065.17 L462.50,2064.31 L464.24,2063.44 L465.98,2062.55 L467.72,2061.64 L469.46,2060.72 L471.20,2059.78 L472.94,2058.83 L474.68,2057.86 L476.42,2056.87 L478.16,2055.87 L479.90,2054.85 L481.64,2053.82 L483.38,2052.76 L485.12,2051.69 L486.86,2050.61 L488.60,2049.50 L490.34,2048.38 L492.08,2047.25 L493.82,2046.09 L495.56,2044.92 L497.30,2043.73 L499.04,2042.52 L500.78,2041.30 L502.52,2040.06 L504.26,2038.80 L506.00,2037.52 L507.74,2036.22 L509.48,2034.91 L511.22,2033.58 L512.96,2032.24 L514.70,2030.87 L516.44,2029.49 L518.18,2028.09 L519.92,2026.67 L521.66,2025.24 L523.40,2023.79 L525.14,2022.32 L526.88,2020.83 L528.62,2019.33 L530.36,2017.81 L532.10,2016.27 L533.84,2014.71 L535.58,2013.14 L537.32,2011.56 L539.06,2009.95 L540.80,2008.33 L542.54,2006.69 L544.28,2005.04 L546.02,2003.37 L547.76,2001.69 L549.50,1999.99 L551.24,1998.27 L552.98,1996.54 L554.72,1994.80 L556.46,1993.04 L558.20,1991.26 L559.94,1989.47 L561.68,1987.67 L563.42,1985.85 L565.16,1984.02 L566.90,1982.18 L568.64,1980.33 L570.38,1978.46 L572.12,1976.58 L573.86,1974.68 L575.60,1972.78 L577.34,1970.86 L579.08,1968.94 L580.82,1967.00 L582.56,1965.05 L584.30,1963.10 L586.04,1961.13 L587.78,1959.15 L589.52,1957.17 L591.26,1955.18 L593.00,1953.18 L594.74,1951.17 L596.48,1949.15 L598.22,1947.13 L599.96,1945.11 L601.70,1943.07 L603.44,1941.04 L605.18,1938.99 L606.92,1936.95 L608.66,1934.90 L610.40,1932.84 L612.14,1930.79 L613.88,1928.73 L615.62,1926.67 L617.36,1924.61 L619.10,1922.55 L620.84,1920.49 L622.58,1918.43 L624.32,1916.37 L626.06,1914.32 L627.80,1912.26 L629.54,1910.21 L631.28,1908.16 L633.02,1906.12 L634.76,1904.08 L636.50,1902.05 L638.24,1900.02 L639.98,1898.00 L641.72,1895.98 L643.46,1893.98 L645.20,1891.98 L646.94,1889.99 L648.68,1888.01 L650.42,1886.04 L652.16,1884.08 L653.90,1882.13 L655.64,1880.20 L657.38,1878.28 L659.12,1876.37 L660.86,1874.47 L662.60,1872.59 L664.34,1870.73 L666.08,1868.88 L667.82,1867.05 L669.56,1865.23 L671.30,1863.44 L673.04,1861.66 L674.78,1859.90 L676.52,1858.16 L678.26,1856.44 L680.00,1854.74 L681.74,1853.06 L683.48,1851.40 L685.22,1849.77 L686.96,1848.16 L688.70,1846.57 L690.44,1845.01 L692.18,1843.47 L693.92,1841.96 L695.66,1840.47 L697.40,1839.01 L699.14,1837.58 L700.88,1836.18 L702.62,1834.80 L704.36,1833.45 L706.10,1832.13 L707.84,1830.84 L709.58,1829.59 L711.32,1828.36 L713.06,1827.16 L714.80,1826.00 L716.54,1824.86 L718.28,1823.76 L720.02,1822.69 L721.76,1821.66 L723.50,1820.66 L725.24,1819.69 L726.98,1818.76 L728.72,1817.86 L730.46,1817.00 L732.20,1816.17 L733.94,1815.38 L735.68,1814.63 L737.42,1813.91 L739.16,1813.23 L740.90,1812.58 L742.64,1811.97 L744.38,1811.40 L746.12,1810.87 L747.86,1810.38 L749.60,1809.92 L751.34,1809.51 L753.08,1809.13 L754.82,1808.79 L756.56,1808.48 L758.30,1808.22 L760.04,1808.00 L761.78,1807.81 L763.52,1807.67 L765.26,1807.56 L767.00,1807.50 L768.74,1807.47 L770.48,1807.48 L772.22,1807.53 L773.96,1807.62 L775.70,1807.74 L777.44,1807.90 L779.18,1808.10 L780.92,1808.34 L782.66,1808.61 L784.40,1808.92 L786.14,1809.27 L787.88,1809.66 L789.62,1810.08 L791.36,1810.54 L793.10,1811.04 L794.84,1811.57 L796.58,1812.14 L798.32,1812.74 L800.06,1813.38 L801.80,1814.06 L803.54,1814.77 L805.28,1815.52 L807.02,1816.30 L808.76,1817.11 L810.50,1817.96 L812.24,1818.84 L813.98,1819.76 L815.72,1820.71 L817.46,1821.69 L819.20,1822.71 L820.94,1823.75 L822.68,1824.83 L824.42,1825.94 L826.16,1827.08 L827.90,1828.25 L829.64,1829.45 L831.38,1830.68 L833.12,1831.94 L834.86,1833.22 L836.60,1834.54 L838.34,1835.88 L840.08,1837.25 L841.82,1838.65 L843.56,1840.07 L845.30,1841.52 L847.04,1842.99 L848.78,1844.49 L850.52,1846.01 L852.26,1847.56 L854.00,1849.13 L855.74,1850.72 L857.48,1852.33 L859.22,1853.97 L860.96,1855.62 L862.70,1857.30 L864.44,1858.99 L866.18,1860.71 L867.92,1862.44 L869.66,1864.19 L871.40,1865.96 L873.14,1867.74 L874.88,1869.54 L876.62,1871.36 L878.36,1873.19 L880.10,1875.04 L881.84,1876.90 L883.58,1878.77 L885.32,1880.66 L887.06,1882.56 L888.80,1884.46 L890.54,1886.39 L892.28,1888.32 L894.02,1890.26 L895.76,1892.21 L897.50,1894.16 L899.24,1896.13 L900.98,1898.10 L902.72,1900.08 L904.46,1902.07 L906.20,1904.06 L907.94,1906.06 L909.68,1908.06 L911.42,1910.07 L913.16,1912.08 L914.90,1914.09 L916.64,1916.10 L918.38,1918.12 L920.12,1920.14 L921.86,1922.16 L923.60,1924.17 L925.34,1926.19 L927.08,1928.21 L928.82,1930.23 L930.56,1932.24 L932.30,1934.25 L934.04,1936.26 L935.78,1938.27 L937.52,1940.27 L939.26,1942.27 L941.00,1944.26 L942.74,1946.25 L944.48,1948.23 L946.22,1950.21 L947.96,1952.18 L949.70,1954.14 L951.44,1956.10 L953.18,1958.04 L954.92,1959.98 L956.66,1961.92 L958.40,1963.84 L960.14,1965.75 L961.88,1967.66 L963.62,1969.55 L965.36,1971.44 L967.10,1973.31 L968.84,1975.17 L970.58,1977.02 L972.32,1978.86 L974.06,1980.69 L975.80,1982.51 L977.54,1984.31 L979.28,1986.10 L981.02,1987.88 L982.76,1989.64 L984.50,1991.39 L986.24,1993.13 L987.98,1994.85 L989.72,1996.56 L991.46,1998.26 L993.20,1999.94 L994.94,2001.60 L996.68,2003.26 L998.42,2004.89 L1000.16,2006.51 L1001.90,2008.12 L1003.64,2009.71 L1005.38,2011.28 L1007.12,2012.84 L1008.86,2014.38 L1010.60,2015.91 L1012.34,2017.42 L1014.08,2018.91 L1015.82,2020.39 L1017.56,2021.85 L1019.30,2023.30 L1021.04,2024.72 L1022.78,2026.14 L1024.52,2027.53 L1026.26,2028.91 L1028.00,2030.27 L1029.74,2031.61 L1031.48,2032.94 L1033.22,2034.25 L1034.96,2035.55 L1036.70,2036.82 L1038.44,2038.08 L1040.18,2039.33 L1041.92,2040.55 L1043.66,2041.76 L1045.40,2042.96 L1047.14,2044.13 L1048.88,2045.29 L1050.62,2046.44 L1052.36,2047.56 L1054.10,2048.67 L1055.84,2049.77 L1057.58,2050.84 L1059.32,2051.91 L1061.06,2052.95 L1062.80,2053.98 L1064.54,2054.99 L1066.28,2055.99 L1068.02,2056.97 L1069.76,2057.93 L1071.50,2058.88 L1073.24,2059.81 L1074.98,2060.73 L1076.72,2061.63 L1078.46,2062.52 L1080.20,2063.39 L1081.94,2064.25 L1083.68,2065.09 L1085.42,2065.92 L1087.16,2066.73 L1088.90,2067.53 L1090.64,2068.31 L1092.38,2069.08 L1094.12,2069.84 L1095.86,2070.58 L1097.60,2071.31 L1099.34,2072.02 L1101.08,2072.72 L1102.82,2073.41 L1104.56,2074.08 L1106.30,2074.74 L1108.04,2075.39 L1109.78,2076.02 L1111.52,2076.65 L1113.26,2077.26 L1115.00,2077.85 L1116.74,2078.44 L1118.48,2079.01 L1120.22,2079.57 L1121.96,2080.12 L1123.70,2080.66 L1125.44,2081.19 L1127.18,2081.71 L1128.92,2082.21 L1130.66,2082.71 L1132.40,2083.19 L1134.14,2083.66 L1135.88,2084.12 L1137.62,2084.58 L1139.36,2085.02 L1141.10,2085.45 L1142.84,2085.87 L1144.58,2086.29 L1146.32,2086.69 L1148.06,2087.08 L1149.80,2087.47 L1151.54,2087.85 L1153.28,2088.21 L1155.02,2088.57 L1156.76,2088.92 L1158.50,2089.26 L1160.24,2089.60 L1161.98,2089.92 L1163.72,2090.24 L1165.46,2090.55 L1167.20,2090.85 L1168.94,2091.15 L1170.68,2091.43 L1172.42,2091.71 L1174.16,2091.99 L1175.90,2092.25 L1177.64,2092.51 L1179.38,2092.77 L1181.12,2093.01 L1182.86,2093.25 L1184.60,2093.49 L1186.34,2093.71 L1188.08,2093.94 L1189.82,2094.15 L1191.56,2094.36 L1193.30,2094.57 L1195.04,2094.76 L1196.78,2094.96 L1198.52,2095.15 L1200.26,2095.33 L1202.00,2095.51 L1203.74,2095.68 L1205.48,2095.85 L1207.22,2096.01 L1208.96,2096.17 L1210.70,2096.33 L1212.44,2096.48 L1214.18,2096.62 L1215.92,2096.76 L1217.66,2096.90 L1219.40,2097.04 L1221.14,2097.17 L1222.88,2097.29 L1224.62,2097.42 L1226.36,2097.53 L1228.10,2097.65 L1229.84,2097.76 L1231.58,2097.87 L1233.32,2097.98 L1235.06,2098.08 L1236.80,2098.18 L1238.54,2098.27 L1240.28,2098.37 L1242.02,2098.46 L1243.76,2098.54 L1245.50,2098.63 L1247.24,2098.71 L1248.98,2098.79 L1250.72,2098.87 L1252.46,2098.94 L1254.20,2099.01 L1255.94,2099.08 L1257.68,2099.15 L1259.42,2099.22 L1261.16,2099.28 L1262.90,2099.34 L1264.64,2099.40 L1266.38,2099.46 L1268.12,2099.52 L1269.86,2099.57 L1271.60,2099.62 L1273.34,2099.67 L1275.08,2099.72 L1276.82,2099.77 L1278.56,2099.81 L1280.30,2099.86 L1282.04,2099.90 L1283.78,2099.94 L1285.52,2099.98 L1287.26,2100.02 L1289.00,2100.05" fill="none" stroke="#a8e4d3" stroke-width="5"/>
<path d="M245.00,2101.00 L246.74,2101.00 L248.48,2101.00 L250.22,2101.00 L251.96,2101.00 L253.70,2101.00 L255.44,2101.00 L257.18,2101.00 L258.92,2101.00 L260.66,2101.00 L262.40,2101.00 L264.14,2101.00 L265.88,2101.00 L267.62,2101.00 L269.36,2101.00 L271.10,2101.00 L272.84,2101.00 L274.58,2101.00 L276.32,2101.00 L278.06,2101.00 L279.80,2101.00 L281.54,2101.00 L283.28,2101.00 L285.02,2101.00 L286.76,2101.00 L288.50,2101.00 L290.24,2101.00 L291.98,2101.00 L293.72,2101.00 L295.46,2101.00 L297.20,2101.00 L298.94,2101.00 L300.68,2101.00 L302.42,2101.00 L304.16,2101.00 L305.90,2101.00 L307.64,2101.00 L309.38,2101.00 L311.12,2101.00 L312.86,2101.00 L314.60,2101.00 L316.34,2101.00 L318.08,2101.00 L319.82,2100.99 L321.56,2100.99 L323.30,2100.99 L325.04,2100.99 L326.78,2100.99 L328.52,2100.99 L330.26,2100.99 L332.00,2100.99 L333.74,2100.99 L335.48,2100.99 L337.22,2100.99 L338.96,2100.99 L340.70,2100.99 L342.44,2100.99 L344.18,2100.99 L345.92,2100.98 L347.66,2100.98 L349.40,2100.98 L351.14,2100.98 L352.88,2100.98 L354.62,2100.98 L356.36,2100.98 L358.10,2100.97 L359.84,2100.97 L361.58,2100.97 L363.32,2100.97 L365.06,2100.97 L366.80,2100.96 L368.54,2100.96 L370.28,2100.96 L372.02,2100.96 L373.76,2100.95 L375.50,2100.95 L377.24,2100.95 L378.98,2100.94 L380.72,2100.94 L382.46,2100.93 L384.20,2100.93 L385.94,2100.92 L387.68,2100.92 L389.42,2100.91 L391.16,2100.91 L392.90,2100.90 L394.64,2100.89 L396.38,2100.89 L398.12,2100.88 L399.86,2100.87 L401.60,2100.86 L403.34,2100.85 L405.08,2100.84 L406.82,2100.83 L408.56,2100.82 L410.30,2100.81 L412.04,2100.80 L413.78,2100.78 L415.52,2100.77 L417.26,2100.76 L419.00,2100.74 L420.74,2100.72 L422.48,2100.71 L424.22,2100.69 L425.96,2100.67 L427.70,2100.65 L429.44,2100.63 L431.18,2100.60 L432.92,2100.58 L434.66,2100.55 L436.40,2100.53 L438.14,2100.50 L439.88,2100.47 L441.62,2100.44 L443.36,2100.40 L445.10,2100.37 L446.84,2100.33 L448.58,2100.29 L450.32,2100.25 L452.06,2100.20 L453.80,2100.16 L455.54,2100.11 L457.28,2100.06 L459.02,2100.00 L460.76,2099.95 L462.50,2099.89 L464.24,2099.83 L465.98,2099.76 L467.72,2099.69 L469.46,2099.62 L471.20,2099.54 L472.94,2099.46 L474.68,2099.38 L476.42,2099.29 L478.16,2099.19 L479.90,2099.10 L481.64,2098.99 L483.38,2098.89 L485.12,2098.77 L486.86,2098.66 L488.60,2098.53 L490.34,2098.40 L492.08,2098.27 L493.82,2098.13 L495.56,2097.98 L497.30,2097.82 L499.04,2097.66 L500.78,2097.49 L502.52,2097.31 L504.26,2097.13 L506.00,2096.94 L507.74,2096.73 L509.48,2096.52 L511.22,2096.30 L512.96,2096.07 L514.70,2095.83 L516.44,2095.58 L518.18,2095.32 L519.92,2095.05 L521.66,2094.77 L523.40,2094.47 L525.14,2094.17 L526.88,2093.85 L528.62,2093.52 L530.36,2093.17 L532.10,2092.81 L533.84,2092.44 L535.58,2092.05 L537.32,2091.64 L539.06,2091.22 L540.80,2090.79 L542.54,2090.33 L544.28,2089.86 L546.02,2089.38 L547.76,2088.87 L549.50,2088.35 L551.24,2087.80 L552.98,2087.24 L554.72,2086.65 L556.46,2086.05 L558.20,2085.42 L559.94,2084.77 L561.68,2084.10 L563.42,2083.40 L565.16,2082.69 L566.90,2081.94 L568.64,2081.17 L570.38,2080.38 L572.12,2079.56 L573.86,2078.71 L575.60,2077.84 L577.34,2076.93 L579.08,2076.00 L580.82,2075.04 L582.56,2074.05 L584.30,2073.03 L586.04,2071.98 L587.78,2070.89 L589.52,2069.77 L591.26,2068.62 L593.00,2067.44 L594.74,2066.22 L596.48,2064.96 L598.22,2063.67 L599.96,2062.35 L601.70,2060.99 L603.44,2059.59 L605.18,2058.15 L606.92,2056.67 L608.66,2055.15 L610.40,2053.60 L612.14,2052.00 L613.88,2050.37 L615.62,2048.69 L617.36,2046.97 L619.10,2045.21 L620.84,2043.40 L622.58,2041.56 L624.32,2039.67 L626.06,2037.73 L627.80,2035.75 L629.54,2033.73 L631.28,2031.66 L633.02,2029.55 L634.76,2027.39 L636.50,2025.18 L638.24,2022.93 L639.98,2020.63 L641.72,2018.29 L643.46,2015.90 L645.20,2013.46 L646.94,2010.98 L648.68,2008.45 L650.42,2005.88 L652.16,2003.25 L653.90,2000.58 L655.64,1997.87 L657.38,1995.10 L659.12,1992.30 L660.86,1989.44 L662.60,1986.54 L664.34,1983.60 L666.08,1980.61 L667.82,1977.57 L669.56,1974.49 L671.30,1971.37 L673.04,1968.21 L674.78,1965.00 L676.52,1961.75 L678.26,1958.46 L680.00,1955.13 L681.74,1951.76 L683.48,1948.35 L685.22,1944.91 L686.96,1941.43 L688.70,1937.91 L690.44,1934.35 L692.18,1930.77 L693.92,1927.15 L695.66,1923.50 L697.40,1919.82 L699.14,1916.11 L700.88,1912.37 L702.62,1908.61 L704.36,1904.82 L706.10,1901.01 L707.84,1897.17 L709.58,1893.32 L711.32,1889.45 L713.06,1885.56 L714.80,1881.66 L716.54,1877.74 L718.28,1873.81 L720.02,1869.87 L721.76,1865.93 L723.50,1861.97 L725.24,1858.02 L726.98,1854.06 L728.72,1850.10 L730.46,1846.15 L732.20,1842.19 L733.94,1838.25 L735.68,1834.31 L737.42,1830.38 L739.16,1826.47 L740.90,1822.57 L742.64,1818.69 L744.38,1814.82 L746.12,1810.98 L747.86,1807.16 L749.60,1803.37 L751.34,1799.61 L753.08,1795.88 L754.82,1792.18 L756.56,1788.51 L758.30,1784.89 L760.04,1781.30 L761.78,1777.76 L763.52,1774.26 L765.26,1770.81 L767.00,1767.41 L768.74,1764.05 L770.48,1760.76 L772.22,1757.52 L773.96,1754.33 L775.70,1751.21 L777.44,1748.15 L779.18,1745.15 L780.92,1742.22 L782.66,1739.36 L784.40,1736.57 L786.14,1733.86 L787.88,1731.22 L789.62,1728.65 L791.36,1726.16 L793.10,1723.76 L794.84,1721.43 L796.58,1719.19 L798.32,1717.04 L800.06,1714.97 L801.80,1712.99 L803.54,1711.10 L805.28,1709.30 L807.02,1707.59 L808.76,1705.98 L810.50,1704.46 L812.24,1703.04 L813.98,1701.72 L815.72,1700.50 L817.46,1699.37 L819.20,1698.35 L820.94,1697.42 L822.68,1696.60 L824.42,1695.88 L826.16,1695.27 L827.90,1694.75 L829.64,1694.35 L831.38,1694.04 L833.12,1693.84 L834.86,1693.74 L836.60,1693.75 L838.34,1693.86 L840.08,1694.06 L841.82,1694.36 L843.56,1694.75 L845.30,1695.24 L847.04,1695.83 L848.78,1696.51 L850.52,1697.29 L852.26,1698.16 L854.00,1699.13 L855.74,1700.19 L857.48,1701.34 L859.22,1702.58 L860.96,1703.91 L862.70,1705.34 L864.44,1706.85 L866.18,1708.45 L867.92,1710.14 L869.66,1711.91 L871.40,1713.76 L873.14,1715.70 L874.88,1717.72 L876.62,1719.82 L878.36,1722.00 L880.10,1724.26 L881.84,1726.59 L883.58,1729.00 L885.32,1731.48 L887.06,1734.03 L888.80,1736.65 L890.54,1739.34 L892.28,1742.09 L894.02,1744.91 L895.76,1747.78 L897.50,1750.72 L899.24,1753.72 L900.98,1756.77 L902.72,1759.88 L904.46,1763.04 L906.20,1766.25 L907.94,1769.51 L909.68,1772.82 L911.42,1776.16 L913.16,1779.56 L914.90,1782.99 L916.64,1786.46 L918.38,1789.97 L920.12,1793.51 L921.86,1797.08 L923.60,1800.68 L925.34,1804.32 L927.08,1807.97 L928.82,1811.65 L930.56,1815.36 L932.30,1819.08 L934.04,1822.82 L935.78,1826.57 L937.52,1830.34 L939.26,1834.13 L941.00,1837.92 L942.74,1841.72 L944.48,1845.52 L946.22,1849.33 L947.96,1853.14 L949.70,1856.95 L951.44,1860.76 L953.18,1864.57 L954.92,1868.37 L956.66,1872.17 L958.40,1875.96 L960.14,1879.73 L961.88,1883.50 L963.62,1887.25 L965.36,1890.99 L967.10,1894.71 L968.84,1898.42 L970.58,1902.10 L972.32,1905.77 L974.06,1909.41 L975.80,1913.03 L977.54,1916.62 L979.28,1920.19 L981.02,1923.73 L982.76,1927.25 L984.50,1930.73 L986.24,1934.19 L987.98,1937.61 L989.72,1941.00 L991.46,1944.36 L993.20,1947.69 L994.94,1950.98 L996.68,1954.23 L998.42,1957.45 L1000.16,1960.63 L1001.90,1963.77 L1003.64,1966.87 L1005.38,1969.94 L1007.12,1972.97 L1008.86,1975.95 L1010.60,1978.90 L1012.34,1981.80 L1014.08,1984.66 L1015.82,1987.49 L1017.56,1990.26 L1019.30,1993.00 L1021.04,1995.70 L1022.78,1998.35 L1024.52,2000.96 L1026.26,2003.52 L1028.00,2006.04 L1029.74,2008.52 L1031.48,2010.96 L1033.22,2013.35 L1034.96,2015.70 L1036.70,2018.01 L1038.44,2020.27 L1040.18,2022.49 L1041.92,2024.67 L1043.66,2026.80 L1045.40,2028.89 L1047.14,2030.94 L1048.88,2032.95 L1050.62,2034.91 L1052.36,2036.84 L1054.10,2038.72 L1055.84,2040.56 L1057.58,2042.37 L1059.32,2044.13 L1061.06,2045.85 L1062.80,2047.53 L1064.54,2049.17 L1066.28,2050.78 L1068.02,2052.35 L1069.76,2053.87 L1071.50,2055.37 L1073.24,2056.82 L1074.98,2058.24 L1076.72,2059.62 L1078.46,2060.97 L1080.20,2062.29 L1081.94,2063.56 L1083.68,2064.81 L1085.42,2066.02 L1087.16,2067.20 L1088.90,2068.35 L1090.64,2069.47 L1092.38,2070.55 L1094.12,2071.61 L1095.86,2072.63 L1097.60,2073.63 L1099.34,2074.60 L1101.08,2075.53 L1102.82,2076.45 L1104.56,2077.33 L1106.30,2078.19 L1108.04,2079.02 L1109.78,2079.83 L1111.52,2080.61 L1113.26,2081.37 L1115.00,2082.10 L1116.74,2082.81 L1118.48,2083.50 L1120.22,2084.17 L1121.96,2084.81 L1123.70,2085.44 L1125.44,2086.04 L1127.18,2086.63 L1128.92,2087.19 L1130.66,2087.73 L1132.40,2088.26 L1134.14,2088.77 L1135.88,2089.26 L1137.62,2089.73 L1139.36,2090.19 L1141.10,2090.63 L1142.84,2091.06 L1144.58,2091.47 L1146.32,2091.87 L1148.06,2092.25 L1149.80,2092.61 L1151.54,2092.97 L1153.28,2093.31 L1155.02,2093.64 L1156.76,2093.95 L1158.50,2094.26 L1160.24,2094.55 L1161.98,2094.83 L1163.72,2095.10 L1165.46,2095.36 L1167.20,2095.61 L1168.94,2095.85 L1170.68,2096.08 L1172.42,2096.30 L1174.16,2096.51 L1175.90,2096.72 L1177.64,2096.91 L1179.38,2097.10 L1181.12,2097.28 L1182.86,2097.45 L1184.60,2097.62 L1186.34,2097.78 L1188.08,2097.93 L1189.82,2098.07 L1191.56,2098.21 L1193.30,2098.34 L1195.04,2098.47 L1196.78,2098.59 L1198.52,2098.71 L1200.26,2098.82 L1202.00,2098.93 L1203.74,2099.03 L1205.48,2099.13 L1207.22,2099.22 L1208.96,2099.31 L1210.70,2099.39 L1212.44,2099.47 L1214.18,2099.55 L1215.92,2099.62 L1217.66,2099.69 L1219.40,2099.76 L1221.14,2099.82 L1222.88,2099.88 L1224.62,2099.94 L1226.36,2100.00 L1228.10,2100.05 L1229.84,2100.10 L1231.58,2100.15 L1233.32,2100.19 L1235.06,2100.23 L1236.80,2100.27 L1238.54,2100.31 L1240.28,2100.35 L1242.02,2100.39 L1243.76,2100.42 L1245.50,2100.45 L1247.24,2100.48 L1248.98,2100.51 L1250.72,2100.54 L1252.46,2100.56 L1254.20,2100.59 L1255.94,2100.61 L1257.68,2100.63 L1259.42,2100.65 L1261.16,2100.67 L1262.90,2100.69 L1264.64,2100.71 L1266.38,2100.72 L1268.12,2100.74 L1269.86,2100.76 L1271.60,2100.77 L1273.34,2100.78 L1275.08,2100.80 L1276.82,2100.81 L1278.56,2100.82 L1280.30,2100.83 L1282.04,2100.84 L1283.78,2100.85 L1285.52,2100.86 L1287.26,2100.87 L1289.00,2100.87" fill="none" stroke="#6fceb8" stroke-width="5"/>
<line x1="767.4" y1="1634.7" x2="767.4" y2="2101" stroke="#c8c8c8" stroke-width="1.5" stroke-dasharray="8.2 9.5"/>
<line x1="835.5" y1="1634.7" x2="835.5" y2="2101" stroke="#c8c8c8" stroke-width="1.5" stroke-dasharray="8.2 9.5"/>
<path d="M834,1633.6 L768.8,1633.6 M777.3,1628.6 L768,1633.6 L777.3,1638.6" fill="none" stroke="#000" stroke-width="2.8" stroke-linecap="round" stroke-linejoin="round"/>
<text x="728.6" y="1619.5" font-size="29.3" fill="#000">Patient <tspan font-style="italic">D</tspan><tspan font-style="italic" font-size="20.5" dy="2">KL</tspan></text>
<rect x="222.1" y="1605.9" width="98.9" height="58.5" rx="3" fill="#fff" stroke="#70d4bf" stroke-width="5.8"/>
<text x="271.5" y="1627.4" font-size="14.6" fill="#111" text-anchor="middle" >Block 3</text>
<text x="271.5" y="1653" font-size="19.5" fill="#111" text-anchor="middle" >Self2</text>
<rect x="367.09999999999997" y="1605.9" width="98.9" height="58.5" rx="3" fill="#fff" stroke="#e6b834" stroke-width="5.8"/>
<text x="416.5" y="1627.4" font-size="14.6" fill="#111" text-anchor="middle" >Block 4</text>
<text x="416.5" y="1653" font-size="19.5" fill="#111" text-anchor="middle" >Other2</text>
<rect x="512.1" y="1605.9" width="98.9" height="58.5" rx="3" fill="#fff" stroke="#b0e6d8" stroke-width="5.8"/>
<text x="561.5" y="1627.4" font-size="14.6" fill="#111" text-anchor="middle" >Block 5</text>
<text x="561.5" y="1653" font-size="19.5" fill="#111" text-anchor="middle" >Self3</text>
<line x1="331" y1="1635.5" x2="354" y2="1635.5" stroke="#000" stroke-width="2.2" />
<path d="M346,1630.7 L356,1635.5 L346,1640.3 Z" fill="#000"/>
<line x1="477" y1="1635.5" x2="499" y2="1635.5" stroke="#000" stroke-width="2.2" />
<path d="M491,1630.7 L501,1635.5 L491,1640.3 Z" fill="#000"/>
<g transform="translate(651,1766.3) scale(1,1.07)"><text x="0" y="0" font-size="29.8" fill="#e4b73a" text-anchor="middle" font-style="italic">Other2</text></g>
<text x="650" y="1788.5" font-size="24.6" fill="#e4b73a" text-anchor="middle" font-style="italic" >(Patient Other)</text>
<g transform="translate(396.8,1986.5) scale(1,1.07)"><text x="0" y="0" font-size="29.5" fill="#92dbc6" text-anchor="middle" font-style="italic">Self3<tspan fill="#000" font-size="25" dx="1" dy="-1.5">*</tspan></text></g>
<text x="396" y="2010.5" font-size="24.6" fill="#92dbc6" text-anchor="middle" font-style="italic" >(after Patient Other)</text>
<text x="396.4" y="2039.3" font-size="22" text-anchor="middle" fill="#000" font-style="italic">*shifted from <tspan fill="#4fb89c">Self2</tspan></text>
<g transform="translate(1192,2014.2) scale(1,1.07)"><text x="0" y="0" font-size="29.5" fill="#4db89a" text-anchor="middle" font-style="italic">Self2</text></g>
<text x="1191.3" y="2036.3" font-size="24.4" fill="#4db89a" text-anchor="middle" font-style="italic" >(after Impulsive Other)</text>
</svg>
</body></html>
